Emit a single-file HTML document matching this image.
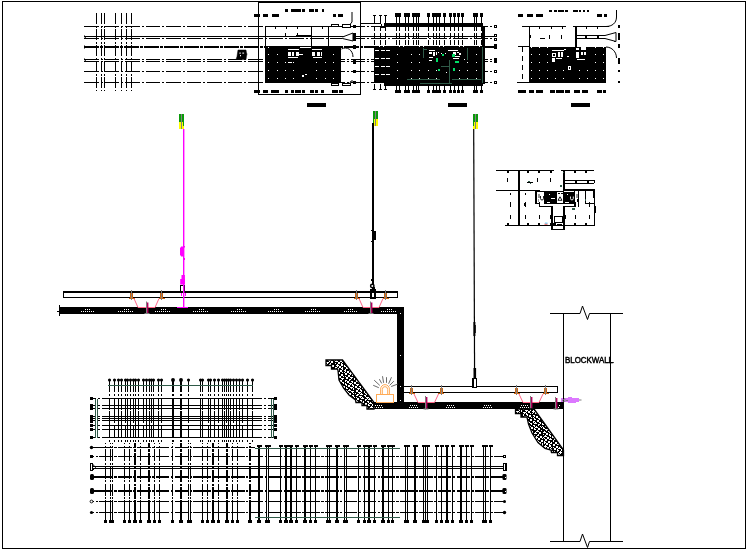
<!DOCTYPE html>
<html lang="en">
<head>
<meta charset="utf-8">
<title>Block wall hanger detail drawing</title>
<style>
html,body{margin:0;padding:0;background:#fff;}
body{width:749px;height:551px;overflow:hidden;font-family:"Liberation Sans",sans-serif;}
svg{display:block;}
</style>
</head>
<body>
<svg width="749" height="551" viewBox="0 0 749 551">
<defs>
<pattern id="hatch" width="4" height="4" patternUnits="userSpaceOnUse">
<rect width="4" height="4" fill="#fff"/>
<rect x="0" y="0" width="2" height="1" fill="#000"/><rect x="3" y="0" width="1" height="1" fill="#000"/>
<rect x="1" y="1" width="2" height="1" fill="#000"/>
<rect x="0" y="2" width="1" height="1" fill="#000"/><rect x="2" y="2" width="2" height="1" fill="#000"/>
<rect x="0" y="3" width="1" height="1" fill="#000"/><rect x="3" y="3" width="1" height="1" fill="#000"/><rect x="1" y="3" width="1" height="1" fill="#000"/>
</pattern>
<clipPath id="cp1"><polygon points="326,360 342.5,360 374,402.5 374,409 367,409 367,405.5 362,405.5 362,402.5 356,402.5 355.5,400 349,395 343.5,388 339,380 338,370.5 337.5,369 331.5,369 331.5,365.5 326,365.5"/></clipPath><clipPath id="cp2"><polygon points="515.5,409 534,409 563.5,450 563.5,455.5 557.5,455.5 557.5,452.5 551.5,452.5 551,450 545,448.5 538,442.5 532,433 528.5,424 527.5,419.5 527,417 521,417 521,413.5 515.5,413.5"/></clipPath>
</defs>
<rect width="749" height="551" fill="#fff"/>
<g shape-rendering="crispEdges">
<rect x="2.5" y="1.5" width="743" height="547" fill="none" stroke="#000" stroke-width="1"/>
<line x1="84" y1="26.5" x2="497" y2="26.5" stroke="#000" stroke-width="1" stroke-dasharray="14.5 2 2 2" stroke-dashoffset="0"/>
<rect x="84" y="36" width="413" height="1" fill="#000"/>
<line x1="84" y1="38.5" x2="497" y2="38.5" stroke="#000" stroke-width="1" stroke-dasharray="14.5 2 2 2" stroke-dashoffset="0"/>
<line x1="84" y1="47" x2="497" y2="47" stroke="#000" stroke-width="2" stroke-dasharray="14.5 1.5 2.5 1.5" stroke-dashoffset="0"/>
<line x1="84" y1="59.5" x2="497" y2="59.5" stroke="#000" stroke-width="1" stroke-dasharray="14.5 2 2 2" stroke-dashoffset="0"/>
<line x1="84" y1="61.5" x2="497" y2="61.5" stroke="#000" stroke-width="1" stroke-dasharray="14.5 2 2 2" stroke-dashoffset="0"/>
<line x1="84" y1="71.5" x2="497" y2="71.5" stroke="#000" stroke-width="1" stroke-dasharray="14.5 2 2 2" stroke-dashoffset="0"/>
<line x1="84" y1="82.5" x2="497" y2="82.5" stroke="#000" stroke-width="1" stroke-dasharray="14.5 2 2 2" stroke-dashoffset="0"/>
<line x1="96.5" y1="13" x2="96.5" y2="91" stroke="#000" stroke-width="1" stroke-dasharray="11 1.5 2 1.5" stroke-dashoffset="0"/>
<line x1="101.5" y1="13" x2="101.5" y2="91" stroke="#000" stroke-width="1" stroke-dasharray="11 1.5 2 1.5" stroke-dashoffset="0"/>
<line x1="104.5" y1="13" x2="104.5" y2="91" stroke="#000" stroke-width="1" stroke-dasharray="11 1.5 2 1.5" stroke-dashoffset="0"/>
<line x1="115.5" y1="13" x2="115.5" y2="91" stroke="#000" stroke-width="1" stroke-dasharray="11 1.5 2 1.5" stroke-dashoffset="0"/>
<line x1="121.5" y1="13" x2="121.5" y2="91" stroke="#000" stroke-width="1" stroke-dasharray="11 1.5 2 1.5" stroke-dashoffset="0"/>
<line x1="126.5" y1="13" x2="126.5" y2="91" stroke="#000" stroke-width="1" stroke-dasharray="11 1.5 2 1.5" stroke-dashoffset="0"/>
<line x1="131.5" y1="13" x2="131.5" y2="91" stroke="#000" stroke-width="1" stroke-dasharray="11 1.5 2 1.5" stroke-dashoffset="0"/>
<rect x="258.5" y="2.5" width="102" height="92" fill="none" stroke="#000" stroke-width="1"/>
<rect x="285" y="9" width="3" height="3" fill="#000"/>
<rect x="291" y="9" width="2.5" height="3" fill="#000"/>
<rect x="294" y="9" width="6.5" height="3" fill="#000"/>
<rect x="301.5" y="9" width="3.5" height="3" fill="#000"/>
<rect x="309" y="9" width="4.5" height="3" fill="#000"/>
<rect x="314.5" y="9" width="3" height="3" fill="#000"/>
<rect x="321.5" y="9" width="2.5" height="3" fill="#000"/>
<rect x="254" y="13.5" width="6" height="3.5" fill="#000"/>
<rect x="263" y="13.5" width="5" height="3.5" fill="#000"/>
<rect x="271.5" y="13.5" width="7.5" height="3.5" fill="#000"/>
<rect x="332.5" y="13.5" width="3.5" height="3.5" fill="#000"/>
<rect x="338" y="13.5" width="4.5" height="3.5" fill="#000"/>
<rect x="254" y="90" width="5.5" height="3" fill="#000"/>
<rect x="263" y="90" width="5" height="3" fill="#000"/>
<rect x="271" y="90" width="8" height="3" fill="#000"/>
<rect x="285" y="90" width="2.5" height="3" fill="#000"/>
<rect x="291" y="90" width="3" height="3" fill="#000"/>
<rect x="294.5" y="90" width="6" height="3" fill="#000"/>
<rect x="301.5" y="90" width="3.5" height="3" fill="#000"/>
<rect x="309.5" y="90" width="4" height="3" fill="#000"/>
<rect x="315" y="90" width="3" height="3" fill="#000"/>
<rect x="321" y="90" width="2.5" height="3" fill="#000"/>
<rect x="332" y="90" width="6" height="3" fill="#000"/>
<rect x="338.7" y="90" width="4.3" height="3" fill="#000"/>
<rect x="265" y="26" width="88" height="1" fill="#000"/>
<rect x="265" y="26" width="1" height="21" fill="#000"/>
<rect x="311" y="26" width="1" height="21" fill="#000"/>
<rect x="328" y="26" width="1" height="21" fill="#000"/>
<rect x="296" y="35" width="15" height="1" fill="#000"/>
<rect x="275" y="27" width="1" height="2" fill="#000"/>
<rect x="286" y="27" width="1" height="2" fill="#000"/>
<rect x="297" y="27" width="1" height="2" fill="#000"/>
<rect x="322" y="27" width="1" height="2" fill="#000"/>
<rect x="285" y="33" width="1" height="3" fill="#000"/>
<rect x="297" y="33" width="1" height="3" fill="#000"/>
<rect x="265" y="46" width="76" height="37" fill="#000"/>
<rect x="268" y="47" width="1" height="1" fill="#fff"/>
<rect x="268" y="54" width="1" height="1" fill="#fff"/>
<rect x="277" y="54" width="1" height="1" fill="#fff"/>
<rect x="333" y="54" width="1" height="1" fill="#fff"/>
<rect x="268" y="62" width="1" height="1" fill="#fff"/>
<rect x="277" y="62" width="1" height="1" fill="#fff"/>
<rect x="285" y="62" width="1" height="1" fill="#fff"/>
<rect x="293" y="62" width="1" height="1" fill="#fff"/>
<rect x="316" y="62" width="1" height="1" fill="#fff"/>
<rect x="325" y="62" width="1" height="1" fill="#fff"/>
<rect x="333" y="62" width="1" height="1" fill="#fff"/>
<rect x="268" y="70" width="1" height="1" fill="#fff"/>
<rect x="277" y="70" width="1" height="1" fill="#fff"/>
<rect x="285" y="70" width="1" height="1" fill="#fff"/>
<rect x="293" y="70" width="1" height="1" fill="#fff"/>
<rect x="316" y="70" width="1" height="1" fill="#fff"/>
<rect x="325" y="70" width="1" height="1" fill="#fff"/>
<rect x="333" y="70" width="1" height="1" fill="#fff"/>
<rect x="268" y="78" width="1" height="1" fill="#fff"/>
<rect x="277" y="78" width="1" height="1" fill="#fff"/>
<rect x="285" y="78" width="1" height="1" fill="#fff"/>
<rect x="293" y="78" width="1" height="1" fill="#fff"/>
<rect x="316" y="78" width="1" height="1" fill="#fff"/>
<rect x="325" y="78" width="1" height="1" fill="#fff"/>
<rect x="333" y="78" width="1" height="1" fill="#fff"/>
<rect x="288" y="49" width="11" height="1" fill="#fff"/>
<rect x="288" y="52" width="6" height="4" fill="#fff"/>
<rect x="296" y="52" width="3" height="4" fill="#fff"/>
<rect x="288" y="57" width="10" height="1" fill="#fff"/>
<rect x="290.5" y="52" width="1" height="4" fill="#000"/>
<rect x="299" y="54" width="4" height="1" fill="#fff"/>
<rect x="312" y="49" width="10" height="1" fill="#fff"/>
<rect x="312" y="52" width="3" height="4" fill="#fff"/>
<rect x="317" y="52" width="5" height="4" fill="#fff"/>
<rect x="313" y="57" width="9" height="1" fill="#fff"/>
<rect x="319.5" y="52" width="1" height="4" fill="#000"/>
<rect x="300" y="47" width="11" height="1" fill="#fff"/>
<rect x="288" y="62" width="4" height="1" fill="#fff"/>
<rect x="302" y="75" width="2" height="2" fill="#fff"/>
<rect x="305" y="74" width="2" height="1" fill="#fff"/>
<rect x="331.5" y="24.5" width="7" height="2" fill="#fff" stroke="#000"/>
<rect x="342.5" y="24.5" width="7.5" height="3" fill="#fff" stroke="#000"/>
<rect x="331.5" y="83.5" width="7" height="2" fill="#fff" stroke="#000"/>
<rect x="342.5" y="83.5" width="7.5" height="2" fill="#fff" stroke="#000"/>
<rect x="353" y="25" width="3" height="3" fill="#000"/>
<rect x="353" y="33" width="3" height="7.5" fill="#000"/>
<rect x="353" y="44.5" width="3" height="4.5" fill="#000"/>
<rect x="353" y="59" width="3" height="4.5" fill="#000"/>
<rect x="353" y="70" width="3" height="2.5" fill="#000"/>
<rect x="353" y="81" width="3" height="3" fill="#000"/>
<rect x="307" y="103" width="19" height="4" fill="#000"/>
<rect x="374" y="16" width="1" height="8" fill="#000"/>
<line x1="374.5" y1="26" x2="374.5" y2="47" stroke="#000" stroke-width="1" stroke-dasharray="5 2" stroke-dashoffset="0"/>
<rect x="374" y="84" width="1" height="6" fill="#000"/>
<rect x="373" y="15" width="3" height="1" fill="#000"/>
<rect x="373" y="89" width="3" height="1" fill="#000"/>
<rect x="380" y="16" width="1" height="8" fill="#000"/>
<line x1="380.5" y1="26" x2="380.5" y2="47" stroke="#000" stroke-width="1" stroke-dasharray="5 2" stroke-dashoffset="0"/>
<rect x="380" y="84" width="1" height="6" fill="#000"/>
<rect x="379" y="15" width="3" height="1" fill="#000"/>
<rect x="379" y="89" width="3" height="1" fill="#000"/>
<rect x="385" y="16" width="1" height="8" fill="#000"/>
<line x1="385.5" y1="26" x2="385.5" y2="47" stroke="#000" stroke-width="1" stroke-dasharray="5 2" stroke-dashoffset="0"/>
<rect x="385" y="84" width="1" height="6" fill="#000"/>
<rect x="384" y="15" width="3" height="1" fill="#000"/>
<rect x="384" y="89" width="3" height="1" fill="#000"/>
<rect x="396" y="16" width="1" height="8" fill="#000"/>
<line x1="396.5" y1="26" x2="396.5" y2="47" stroke="#000" stroke-width="1" stroke-dasharray="5 2" stroke-dashoffset="0"/>
<rect x="396" y="84" width="1" height="6" fill="#000"/>
<rect x="395" y="13" width="3" height="3.5" fill="#000"/>
<rect x="395" y="89.5" width="3" height="3.5" fill="#000"/>
<rect x="399" y="16" width="1" height="8" fill="#000"/>
<line x1="399.5" y1="26" x2="399.5" y2="47" stroke="#000" stroke-width="1" stroke-dasharray="5 2" stroke-dashoffset="0"/>
<rect x="399" y="84" width="1" height="6" fill="#000"/>
<rect x="398" y="13" width="3" height="3.5" fill="#000"/>
<rect x="398" y="89.5" width="3" height="3.5" fill="#000"/>
<rect x="405" y="16" width="1" height="8" fill="#000"/>
<line x1="405.5" y1="26" x2="405.5" y2="47" stroke="#000" stroke-width="1" stroke-dasharray="5 2" stroke-dashoffset="0"/>
<rect x="405" y="84" width="1" height="6" fill="#000"/>
<rect x="404" y="13" width="3" height="3.5" fill="#000"/>
<rect x="404" y="89.5" width="3" height="3.5" fill="#000"/>
<rect x="408" y="16" width="1" height="8" fill="#000"/>
<line x1="408.5" y1="26" x2="408.5" y2="47" stroke="#000" stroke-width="1" stroke-dasharray="5 2" stroke-dashoffset="0"/>
<rect x="408" y="84" width="1" height="6" fill="#000"/>
<rect x="407" y="13" width="3" height="3.5" fill="#000"/>
<rect x="407" y="89.5" width="3" height="3.5" fill="#000"/>
<rect x="413" y="16" width="1" height="8" fill="#000"/>
<line x1="413.5" y1="26" x2="413.5" y2="47" stroke="#000" stroke-width="1" stroke-dasharray="5 2" stroke-dashoffset="0"/>
<rect x="413" y="84" width="1" height="6" fill="#000"/>
<rect x="412" y="13" width="3" height="3.5" fill="#000"/>
<rect x="412" y="89.5" width="3" height="3.5" fill="#000"/>
<rect x="416" y="16" width="1" height="8" fill="#000"/>
<line x1="416.5" y1="26" x2="416.5" y2="47" stroke="#000" stroke-width="1" stroke-dasharray="5 2" stroke-dashoffset="0"/>
<rect x="416" y="84" width="1" height="6" fill="#000"/>
<rect x="415" y="13" width="3" height="3.5" fill="#000"/>
<rect x="415" y="89.5" width="3" height="3.5" fill="#000"/>
<rect x="418" y="16" width="1" height="8" fill="#000"/>
<line x1="418.5" y1="26" x2="418.5" y2="47" stroke="#000" stroke-width="1" stroke-dasharray="5 2" stroke-dashoffset="0"/>
<rect x="418" y="84" width="1" height="6" fill="#000"/>
<rect x="417" y="13" width="3" height="3.5" fill="#000"/>
<rect x="417" y="89.5" width="3" height="3.5" fill="#000"/>
<rect x="428" y="16" width="1" height="8" fill="#000"/>
<line x1="428.5" y1="26" x2="428.5" y2="47" stroke="#000" stroke-width="1" stroke-dasharray="5 2" stroke-dashoffset="0"/>
<rect x="428" y="84" width="1" height="6" fill="#000"/>
<rect x="427" y="13" width="3" height="3.5" fill="#000"/>
<rect x="427" y="89.5" width="3" height="3.5" fill="#000"/>
<rect x="433" y="16" width="1" height="8" fill="#000"/>
<line x1="433.5" y1="26" x2="433.5" y2="47" stroke="#000" stroke-width="1" stroke-dasharray="5 2" stroke-dashoffset="0"/>
<rect x="433" y="84" width="1" height="6" fill="#000"/>
<rect x="432" y="13" width="3" height="3.5" fill="#000"/>
<rect x="432" y="89.5" width="3" height="3.5" fill="#000"/>
<rect x="436" y="16" width="1" height="8" fill="#000"/>
<line x1="436.5" y1="26" x2="436.5" y2="47" stroke="#000" stroke-width="1" stroke-dasharray="5 2" stroke-dashoffset="0"/>
<rect x="436" y="84" width="1" height="6" fill="#000"/>
<rect x="435" y="13" width="3" height="3.5" fill="#000"/>
<rect x="435" y="89.5" width="3" height="3.5" fill="#000"/>
<rect x="439" y="16" width="1" height="8" fill="#000"/>
<line x1="439.5" y1="26" x2="439.5" y2="47" stroke="#000" stroke-width="1" stroke-dasharray="5 2" stroke-dashoffset="0"/>
<rect x="439" y="84" width="1" height="6" fill="#000"/>
<rect x="438" y="13" width="3" height="3.5" fill="#000"/>
<rect x="438" y="89.5" width="3" height="3.5" fill="#000"/>
<rect x="444" y="16" width="1" height="8" fill="#000"/>
<line x1="444.5" y1="26" x2="444.5" y2="47" stroke="#000" stroke-width="1" stroke-dasharray="5 2" stroke-dashoffset="0"/>
<rect x="444" y="84" width="1" height="6" fill="#000"/>
<rect x="443" y="13" width="3" height="3.5" fill="#000"/>
<rect x="443" y="89.5" width="3" height="3.5" fill="#000"/>
<rect x="450" y="16" width="1" height="8" fill="#000"/>
<line x1="450.5" y1="26" x2="450.5" y2="47" stroke="#000" stroke-width="1" stroke-dasharray="5 2" stroke-dashoffset="0"/>
<rect x="450" y="84" width="1" height="6" fill="#000"/>
<rect x="449" y="13" width="3" height="3.5" fill="#000"/>
<rect x="449" y="89.5" width="3" height="3.5" fill="#000"/>
<rect x="454" y="16" width="1" height="8" fill="#000"/>
<line x1="454.5" y1="26" x2="454.5" y2="47" stroke="#000" stroke-width="1" stroke-dasharray="5 2" stroke-dashoffset="0"/>
<rect x="454" y="84" width="1" height="6" fill="#000"/>
<rect x="453" y="13" width="3" height="3.5" fill="#000"/>
<rect x="453" y="89.5" width="3" height="3.5" fill="#000"/>
<rect x="458" y="16" width="1" height="8" fill="#000"/>
<line x1="458.5" y1="26" x2="458.5" y2="47" stroke="#000" stroke-width="1" stroke-dasharray="5 2" stroke-dashoffset="0"/>
<rect x="458" y="84" width="1" height="6" fill="#000"/>
<rect x="457" y="13" width="3" height="3.5" fill="#000"/>
<rect x="457" y="89.5" width="3" height="3.5" fill="#000"/>
<rect x="462" y="16" width="1" height="8" fill="#000"/>
<line x1="462.5" y1="26" x2="462.5" y2="47" stroke="#000" stroke-width="1" stroke-dasharray="5 2" stroke-dashoffset="0"/>
<rect x="462" y="84" width="1" height="6" fill="#000"/>
<rect x="461" y="13" width="3" height="3.5" fill="#000"/>
<rect x="461" y="89.5" width="3" height="3.5" fill="#000"/>
<rect x="474" y="16" width="1" height="8" fill="#000"/>
<line x1="474.5" y1="26" x2="474.5" y2="47" stroke="#000" stroke-width="1" stroke-dasharray="5 2" stroke-dashoffset="0"/>
<rect x="474" y="84" width="1" height="6" fill="#000"/>
<rect x="473" y="13" width="3" height="3.5" fill="#000"/>
<rect x="473" y="89.5" width="3" height="3.5" fill="#000"/>
<rect x="476" y="16" width="1" height="8" fill="#000"/>
<line x1="476.5" y1="26" x2="476.5" y2="47" stroke="#000" stroke-width="1" stroke-dasharray="5 2" stroke-dashoffset="0"/>
<rect x="476" y="84" width="1" height="6" fill="#000"/>
<rect x="475" y="13" width="3" height="3.5" fill="#000"/>
<rect x="475" y="89.5" width="3" height="3.5" fill="#000"/>
<rect x="481" y="16" width="1" height="8" fill="#000"/>
<line x1="481.5" y1="26" x2="481.5" y2="47" stroke="#000" stroke-width="1" stroke-dasharray="5 2" stroke-dashoffset="0"/>
<rect x="481" y="84" width="1" height="6" fill="#000"/>
<rect x="480" y="13" width="3" height="3.5" fill="#000"/>
<rect x="480" y="89.5" width="3" height="3.5" fill="#000"/>
<rect x="360" y="23" width="21" height="1" fill="#000"/>
<polyline points="381,23.5 381,27.5 385,27.5" fill="none" stroke="#000" stroke-width="1"/>
<rect x="384" y="23" width="99" height="3.5" fill="#000"/>
<rect x="374" y="46.5" width="9.5" height="36.7" fill="#000"/>
<rect x="383.5" y="46.5" width="99.5" height="39" fill="#000"/>
<rect x="481.5" y="26" width="3.5" height="58" fill="#000"/>
<line x1="375" y1="50.5" x2="390" y2="50.5" stroke="#fff" stroke-width="1" stroke-dasharray="4 1.5" stroke-dashoffset="0"/>
<line x1="375" y1="58.5" x2="390" y2="58.5" stroke="#fff" stroke-width="1" stroke-dasharray="4 1.5" stroke-dashoffset="0"/>
<line x1="375" y1="66.5" x2="390" y2="66.5" stroke="#fff" stroke-width="1" stroke-dasharray="4 1.5" stroke-dashoffset="0"/>
<line x1="375" y1="74.5" x2="390" y2="74.5" stroke="#fff" stroke-width="1" stroke-dasharray="4 1.5" stroke-dashoffset="0"/>
<rect x="397" y="54" width="1" height="1" fill="#fff"/>
<rect x="411" y="54" width="1" height="1" fill="#fff"/>
<rect x="419" y="54" width="1" height="1" fill="#fff"/>
<rect x="467" y="54" width="1" height="1" fill="#fff"/>
<rect x="476" y="54" width="1" height="1" fill="#fff"/>
<rect x="397" y="62" width="1" height="1" fill="#fff"/>
<rect x="411" y="62" width="1" height="1" fill="#fff"/>
<rect x="419" y="62" width="1" height="1" fill="#fff"/>
<rect x="467" y="62" width="1" height="1" fill="#fff"/>
<rect x="476" y="62" width="1" height="1" fill="#fff"/>
<rect x="397" y="70" width="1" height="1" fill="#fff"/>
<rect x="411" y="70" width="1" height="1" fill="#fff"/>
<rect x="419" y="70" width="1" height="1" fill="#fff"/>
<rect x="428" y="70" width="1" height="1" fill="#fff"/>
<rect x="436" y="70" width="1" height="1" fill="#fff"/>
<rect x="459" y="70" width="1" height="1" fill="#fff"/>
<rect x="467" y="70" width="1" height="1" fill="#fff"/>
<rect x="476" y="70" width="1" height="1" fill="#fff"/>
<rect x="397" y="78" width="1" height="1" fill="#fff"/>
<rect x="411" y="78" width="1" height="1" fill="#fff"/>
<rect x="419" y="78" width="1" height="1" fill="#fff"/>
<rect x="428" y="78" width="1" height="1" fill="#fff"/>
<rect x="436" y="78" width="1" height="1" fill="#fff"/>
<rect x="459" y="78" width="1" height="1" fill="#fff"/>
<rect x="467" y="78" width="1" height="1" fill="#fff"/>
<rect x="476" y="78" width="1" height="1" fill="#fff"/>
<rect x="429" y="50" width="6" height="1" fill="#fff"/>
<rect x="429" y="52" width="3" height="2" fill="#fff"/>
<rect x="429" y="57" width="4" height="1" fill="#fff"/>
<rect x="429" y="60" width="3" height="1" fill="#fff"/>
<rect x="433" y="52" width="2" height="4" fill="#fff"/>
<rect x="436" y="52" width="1" height="3" fill="#fff"/>
<rect x="438" y="52" width="1" height="1" fill="#fff"/>
<rect x="441" y="53" width="1" height="1" fill="#fff"/>
<rect x="445" y="53" width="1" height="1" fill="#fff"/>
<rect x="448" y="50" width="10" height="1" fill="#fff"/>
<rect x="453" y="52" width="3" height="3" fill="#fff"/>
<rect x="457" y="52" width="2" height="1" fill="#fff"/>
<rect x="455" y="56" width="5" height="1" fill="#fff"/>
<rect x="453" y="58" width="6" height="1" fill="#fff"/>
<rect x="459" y="53" width="2" height="2" fill="#fff"/>
<rect x="446" y="72" width="1" height="1" fill="#fff"/>
<rect x="464" y="59" width="1" height="1" fill="#fff"/>
<rect x="436" y="58" width="2" height="4" fill="#00dd66"/>
<rect x="442" y="54" width="1.5" height="2" fill="#00dd66"/>
<rect x="452" y="54" width="2.5" height="2.5" fill="#00dd66"/>
<rect x="455" y="61" width="4" height="2" fill="#00dd66"/>
<rect x="438" y="69" width="2" height="2" fill="#00dd66"/>
<rect x="453" y="68" width="2" height="3" fill="#00dd66"/>
<rect x="423" y="48" width="1" height="10" fill="#2f5a48"/>
<rect x="423" y="49" width="4" height="1" fill="#2f5a48"/>
<rect x="407" y="79" width="33" height="1" fill="#2f5a48"/>
<rect x="452" y="79" width="29" height="1" fill="#2f5a48"/>
<rect x="420" y="83" width="32" height="1" fill="#2f5a48"/>
<rect x="449" y="60" width="1" height="23" fill="#2f5a48"/>
<rect x="467" y="48" width="1" height="12" fill="#2f5a48"/>
<rect x="482" y="47" width="1" height="36" fill="#2f5a48"/>
<rect x="441" y="66" width="8" height="1" fill="#2f5a48"/>
<rect x="494.5" y="25.5" width="2" height="2" fill="#fff" stroke="#000"/>
<rect x="494.5" y="34.5" width="2" height="2" fill="#fff" stroke="#000"/>
<rect x="494.5" y="38.5" width="2" height="2" fill="#fff" stroke="#000"/>
<rect x="494.5" y="45.5" width="2" height="2" fill="#fff" stroke="#000"/>
<rect x="494.5" y="60.5" width="2" height="2" fill="#fff" stroke="#000"/>
<rect x="494.5" y="70.5" width="2" height="2" fill="#fff" stroke="#000"/>
<rect x="494.5" y="81.5" width="2" height="2" fill="#fff" stroke="#000"/>
<rect x="494" y="44" width="3" height="5" fill="#000"/>
<rect x="494" y="58" width="3" height="5" fill="#000"/>
<rect x="448" y="103" width="19" height="3.5" fill="#000"/>
<rect x="549" y="9.5" width="3" height="2.5" fill="#000"/>
<rect x="554" y="9.5" width="2.5" height="2.5" fill="#000"/>
<rect x="557.5" y="9.5" width="6" height="2.5" fill="#000"/>
<rect x="564.5" y="9.5" width="3.5" height="2.5" fill="#000"/>
<rect x="573" y="9.5" width="4.5" height="2.5" fill="#000"/>
<rect x="578.5" y="9.5" width="2.5" height="2.5" fill="#000"/>
<rect x="583" y="9.5" width="2" height="2.5" fill="#000"/>
<rect x="586.5" y="9.5" width="2" height="2.5" fill="#000"/>
<rect x="518" y="13.5" width="5" height="3" fill="#000"/>
<rect x="527" y="13.5" width="5.5" height="3" fill="#000"/>
<rect x="536" y="13.5" width="7" height="3" fill="#000"/>
<rect x="596.5" y="13.5" width="5.5" height="3" fill="#000"/>
<rect x="603.5" y="13.5" width="3.5" height="3" fill="#000"/>
<rect x="518" y="90" width="7.5" height="3" fill="#000"/>
<rect x="529" y="90" width="5" height="3" fill="#000"/>
<rect x="536" y="90" width="6.5" height="3" fill="#000"/>
<rect x="550" y="90" width="4.5" height="3" fill="#000"/>
<rect x="556" y="90" width="8" height="3" fill="#000"/>
<rect x="565" y="90" width="4.5" height="3" fill="#000"/>
<rect x="573.5" y="90" width="6.5" height="3" fill="#000"/>
<rect x="582" y="90" width="5.5" height="3" fill="#000"/>
<rect x="597" y="90" width="4.5" height="3" fill="#000"/>
<rect x="602.5" y="90" width="3.5" height="3" fill="#000"/>
<rect x="522" y="26" width="44" height="1" fill="#000"/>
<rect x="573" y="26" width="36" height="1" fill="#000"/>
<rect x="529" y="26" width="1" height="21" fill="#000"/>
<rect x="575" y="26" width="2" height="21" fill="#000"/>
<rect x="539" y="27" width="1" height="2" fill="#000"/>
<rect x="551" y="27" width="1" height="2" fill="#000"/>
<rect x="562" y="27" width="1" height="2" fill="#000"/>
<rect x="586" y="27" width="1" height="2" fill="#000"/>
<rect x="597" y="27" width="1" height="2" fill="#000"/>
<rect x="540" y="38" width="5" height="1" fill="#000"/>
<rect x="549" y="35" width="1" height="4" fill="#000"/>
<rect x="561" y="35" width="1" height="4" fill="#000"/>
<rect x="530" y="35" width="1" height="3" fill="#000"/>
<rect x="577" y="35" width="28" height="1" fill="#000"/>
<rect x="577" y="38" width="28" height="1" fill="#000"/>
<rect x="585" y="35" width="1" height="4" fill="#000"/>
<rect x="586" y="35" width="1" height="4" fill="#000"/>
<rect x="597" y="35" width="1" height="4" fill="#000"/>
<rect x="598" y="35" width="1" height="4" fill="#000"/>
<rect x="614" y="33" width="2" height="9" fill="#000"/>
<rect x="529" y="46.5" width="77" height="36.5" fill="#000"/>
<rect x="518" y="46" width="11" height="1" fill="#000"/>
<rect x="517" y="82" width="12" height="1" fill="#000"/>
<line x1="522.5" y1="47" x2="522.5" y2="82" stroke="#000" stroke-width="1" stroke-dasharray="5 4" stroke-dashoffset="0"/>
<rect x="531" y="47" width="1" height="1" fill="#fff"/>
<rect x="539" y="47" width="1" height="1" fill="#fff"/>
<rect x="547" y="47" width="1" height="1" fill="#fff"/>
<rect x="595" y="47" width="1" height="1" fill="#fff"/>
<rect x="603" y="47" width="1" height="1" fill="#fff"/>
<rect x="531" y="54" width="1" height="1" fill="#fff"/>
<rect x="539" y="54" width="1" height="1" fill="#fff"/>
<rect x="547" y="54" width="1" height="1" fill="#fff"/>
<rect x="595" y="54" width="1" height="1" fill="#fff"/>
<rect x="603" y="54" width="1" height="1" fill="#fff"/>
<rect x="531" y="62" width="1" height="1" fill="#fff"/>
<rect x="539" y="62" width="1" height="1" fill="#fff"/>
<rect x="547" y="62" width="1" height="1" fill="#fff"/>
<rect x="595" y="62" width="1" height="1" fill="#fff"/>
<rect x="603" y="62" width="1" height="1" fill="#fff"/>
<rect x="531" y="70" width="1" height="1" fill="#fff"/>
<rect x="539" y="70" width="1" height="1" fill="#fff"/>
<rect x="547" y="70" width="1" height="1" fill="#fff"/>
<rect x="555" y="70" width="1" height="1" fill="#fff"/>
<rect x="563" y="70" width="1" height="1" fill="#fff"/>
<rect x="579" y="70" width="1" height="1" fill="#fff"/>
<rect x="587" y="70" width="1" height="1" fill="#fff"/>
<rect x="595" y="70" width="1" height="1" fill="#fff"/>
<rect x="603" y="70" width="1" height="1" fill="#fff"/>
<rect x="531" y="78" width="1" height="1" fill="#fff"/>
<rect x="539" y="78" width="1" height="1" fill="#fff"/>
<rect x="547" y="78" width="1" height="1" fill="#fff"/>
<rect x="555" y="78" width="1" height="1" fill="#fff"/>
<rect x="563" y="78" width="1" height="1" fill="#fff"/>
<rect x="579" y="78" width="1" height="1" fill="#fff"/>
<rect x="587" y="78" width="1" height="1" fill="#fff"/>
<rect x="595" y="78" width="1" height="1" fill="#fff"/>
<rect x="603" y="78" width="1" height="1" fill="#fff"/>
<rect x="552" y="50" width="12" height="1" fill="#fff"/>
<rect x="552" y="53" width="4" height="4" fill="#fff"/>
<rect x="558" y="52" width="5" height="5" fill="#fff"/>
<rect x="552" y="58" width="3" height="4" fill="#fff"/>
<rect x="556" y="58" width="6" height="1" fill="#fff"/>
<rect x="576" y="48" width="3" height="2" fill="#fff"/>
<rect x="581" y="47" width="5" height="3" fill="#fff"/>
<rect x="576" y="52" width="3" height="6" fill="#fff"/>
<rect x="581" y="52" width="5" height="3" fill="#fff"/>
<rect x="577" y="59" width="8" height="1" fill="#fff"/>
<rect x="568" y="66" width="3" height="4" fill="#fff"/>
<rect x="564" y="49" width="2" height="1" fill="#fff"/>
<rect x="567" y="56" width="2" height="1" fill="#fff"/>
<rect x="553" y="54" width="2" height="2" fill="#000"/>
<rect x="559.5" y="52" width="1" height="5" fill="#000"/>
<rect x="582.5" y="52" width="1" height="3" fill="#000"/>
<rect x="569" y="67" width="1" height="2" fill="#000"/>
<rect x="617.5" y="25" width="2.5" height="2.5" fill="#000"/>
<rect x="617.5" y="33" width="2.5" height="7" fill="#000"/>
<rect x="617.5" y="44" width="2.5" height="4" fill="#000"/>
<rect x="617.5" y="58" width="2.5" height="6" fill="#000"/>
<rect x="617.5" y="70" width="2.5" height="2" fill="#000"/>
<rect x="617.5" y="81" width="2.5" height="2" fill="#000"/>
<rect x="571" y="103" width="19" height="3.5" fill="#000"/>
<rect x="63" y="291" width="335" height="2" fill="#000"/>
<rect x="63" y="297" width="335" height="1" fill="#000"/>
<rect x="63" y="291" width="1" height="7" fill="#000"/>
<rect x="397" y="291" width="1" height="7" fill="#000"/>
<rect x="59.5" y="307" width="344.5" height="6.8" fill="#000"/>
<rect x="59" y="305" width="1" height="11" fill="#000"/>
<rect x="57" y="311" width="2" height="1" fill="#000"/>
<rect x="397.3" y="307" width="6.7" height="102" fill="#000"/>
<rect x="85" y="309" width="1" height="1" fill="#fff"/>
<rect x="87" y="309" width="1" height="1" fill="#fff"/>
<rect x="89" y="309" width="1" height="1" fill="#fff"/>
<rect x="81" y="311" width="1" height="1" fill="#fff"/>
<rect x="83" y="311" width="1" height="1" fill="#fff"/>
<rect x="85" y="311" width="1" height="1" fill="#fff"/>
<rect x="87" y="311" width="1" height="1" fill="#fff"/>
<rect x="89" y="311" width="1" height="1" fill="#fff"/>
<rect x="91" y="311" width="1" height="1" fill="#fff"/>
<rect x="93" y="311" width="1" height="1" fill="#fff"/>
<rect x="124" y="309" width="1" height="1" fill="#fff"/>
<rect x="126" y="309" width="1" height="1" fill="#fff"/>
<rect x="128" y="309" width="1" height="1" fill="#fff"/>
<rect x="118" y="311" width="1" height="1" fill="#fff"/>
<rect x="120" y="311" width="1" height="1" fill="#fff"/>
<rect x="122" y="311" width="1" height="1" fill="#fff"/>
<rect x="124" y="311" width="1" height="1" fill="#fff"/>
<rect x="126" y="311" width="1" height="1" fill="#fff"/>
<rect x="128" y="311" width="1" height="1" fill="#fff"/>
<rect x="130" y="311" width="1" height="1" fill="#fff"/>
<rect x="132" y="311" width="1" height="1" fill="#fff"/>
<rect x="161" y="309" width="1" height="1" fill="#fff"/>
<rect x="163" y="309" width="1" height="1" fill="#fff"/>
<rect x="165" y="309" width="1" height="1" fill="#fff"/>
<rect x="155" y="311" width="1" height="1" fill="#fff"/>
<rect x="157" y="311" width="1" height="1" fill="#fff"/>
<rect x="159" y="311" width="1" height="1" fill="#fff"/>
<rect x="161" y="311" width="1" height="1" fill="#fff"/>
<rect x="163" y="311" width="1" height="1" fill="#fff"/>
<rect x="165" y="311" width="1" height="1" fill="#fff"/>
<rect x="167" y="311" width="1" height="1" fill="#fff"/>
<rect x="169" y="311" width="1" height="1" fill="#fff"/>
<rect x="199" y="309" width="1" height="1" fill="#fff"/>
<rect x="201" y="309" width="1" height="1" fill="#fff"/>
<rect x="203" y="309" width="1" height="1" fill="#fff"/>
<rect x="193" y="311" width="1" height="1" fill="#fff"/>
<rect x="195" y="311" width="1" height="1" fill="#fff"/>
<rect x="197" y="311" width="1" height="1" fill="#fff"/>
<rect x="199" y="311" width="1" height="1" fill="#fff"/>
<rect x="201" y="311" width="1" height="1" fill="#fff"/>
<rect x="203" y="311" width="1" height="1" fill="#fff"/>
<rect x="205" y="311" width="1" height="1" fill="#fff"/>
<rect x="207" y="311" width="1" height="1" fill="#fff"/>
<rect x="237" y="309" width="1" height="1" fill="#fff"/>
<rect x="239" y="309" width="1" height="1" fill="#fff"/>
<rect x="241" y="309" width="1" height="1" fill="#fff"/>
<rect x="231" y="311" width="1" height="1" fill="#fff"/>
<rect x="233" y="311" width="1" height="1" fill="#fff"/>
<rect x="235" y="311" width="1" height="1" fill="#fff"/>
<rect x="237" y="311" width="1" height="1" fill="#fff"/>
<rect x="239" y="311" width="1" height="1" fill="#fff"/>
<rect x="241" y="311" width="1" height="1" fill="#fff"/>
<rect x="243" y="311" width="1" height="1" fill="#fff"/>
<rect x="245" y="311" width="1" height="1" fill="#fff"/>
<rect x="274" y="309" width="1" height="1" fill="#fff"/>
<rect x="276" y="309" width="1" height="1" fill="#fff"/>
<rect x="278" y="309" width="1" height="1" fill="#fff"/>
<rect x="268" y="311" width="1" height="1" fill="#fff"/>
<rect x="270" y="311" width="1" height="1" fill="#fff"/>
<rect x="272" y="311" width="1" height="1" fill="#fff"/>
<rect x="274" y="311" width="1" height="1" fill="#fff"/>
<rect x="276" y="311" width="1" height="1" fill="#fff"/>
<rect x="278" y="311" width="1" height="1" fill="#fff"/>
<rect x="280" y="311" width="1" height="1" fill="#fff"/>
<rect x="282" y="311" width="1" height="1" fill="#fff"/>
<rect x="311" y="309" width="1" height="1" fill="#fff"/>
<rect x="313" y="309" width="1" height="1" fill="#fff"/>
<rect x="315" y="309" width="1" height="1" fill="#fff"/>
<rect x="305" y="311" width="1" height="1" fill="#fff"/>
<rect x="307" y="311" width="1" height="1" fill="#fff"/>
<rect x="309" y="311" width="1" height="1" fill="#fff"/>
<rect x="311" y="311" width="1" height="1" fill="#fff"/>
<rect x="313" y="311" width="1" height="1" fill="#fff"/>
<rect x="315" y="311" width="1" height="1" fill="#fff"/>
<rect x="317" y="311" width="1" height="1" fill="#fff"/>
<rect x="319" y="311" width="1" height="1" fill="#fff"/>
<rect x="348" y="309" width="1" height="1" fill="#fff"/>
<rect x="350" y="309" width="1" height="1" fill="#fff"/>
<rect x="352" y="309" width="1" height="1" fill="#fff"/>
<rect x="344" y="311" width="1" height="1" fill="#fff"/>
<rect x="346" y="311" width="1" height="1" fill="#fff"/>
<rect x="348" y="311" width="1" height="1" fill="#fff"/>
<rect x="350" y="311" width="1" height="1" fill="#fff"/>
<rect x="352" y="311" width="1" height="1" fill="#fff"/>
<rect x="354" y="311" width="1" height="1" fill="#fff"/>
<rect x="356" y="311" width="1" height="1" fill="#fff"/>
<rect x="387" y="309" width="1" height="1" fill="#fff"/>
<rect x="389" y="309" width="1" height="1" fill="#fff"/>
<rect x="391" y="309" width="1" height="1" fill="#fff"/>
<rect x="381" y="311" width="1" height="1" fill="#fff"/>
<rect x="383" y="311" width="1" height="1" fill="#fff"/>
<rect x="385" y="311" width="1" height="1" fill="#fff"/>
<rect x="387" y="311" width="1" height="1" fill="#fff"/>
<rect x="389" y="311" width="1" height="1" fill="#fff"/>
<rect x="391" y="311" width="1" height="1" fill="#fff"/>
<rect x="393" y="311" width="1" height="1" fill="#fff"/>
<rect x="395" y="311" width="1" height="1" fill="#fff"/>
<rect x="399.5" y="313" width="1" height="1" fill="#fff"/>
<rect x="400" y="355" width="1" height="1" fill="#fff"/>
<rect x="400" y="386" width="1" height="1" fill="#fff"/>
<rect x="400" y="400" width="1" height="1" fill="#fff"/>
<rect x="404" y="386" width="154" height="1" fill="#000"/>
<rect x="404" y="392" width="154" height="1" fill="#000"/>
<rect x="557" y="386" width="1" height="7" fill="#000"/>
<rect x="373.5" y="402.3" width="190.5" height="6.6" fill="#000"/>
<rect x="375" y="405" width="1" height="1" fill="#fff"/>
<rect x="377" y="405" width="1" height="1" fill="#fff"/>
<rect x="379" y="405" width="1" height="1" fill="#fff"/>
<rect x="381" y="405" width="1" height="1" fill="#fff"/>
<rect x="374" y="407" width="1" height="1" fill="#fff"/>
<rect x="376" y="407" width="1" height="1" fill="#fff"/>
<rect x="378" y="407" width="1" height="1" fill="#fff"/>
<rect x="380" y="407" width="1" height="1" fill="#fff"/>
<rect x="382" y="407" width="1" height="1" fill="#fff"/>
<rect x="410" y="405" width="1" height="1" fill="#fff"/>
<rect x="412" y="405" width="1" height="1" fill="#fff"/>
<rect x="414" y="405" width="1" height="1" fill="#fff"/>
<rect x="416" y="405" width="1" height="1" fill="#fff"/>
<rect x="409" y="407" width="1" height="1" fill="#fff"/>
<rect x="411" y="407" width="1" height="1" fill="#fff"/>
<rect x="413" y="407" width="1" height="1" fill="#fff"/>
<rect x="415" y="407" width="1" height="1" fill="#fff"/>
<rect x="417" y="407" width="1" height="1" fill="#fff"/>
<rect x="447" y="405" width="1" height="1" fill="#fff"/>
<rect x="449" y="405" width="1" height="1" fill="#fff"/>
<rect x="451" y="405" width="1" height="1" fill="#fff"/>
<rect x="453" y="405" width="1" height="1" fill="#fff"/>
<rect x="446" y="407" width="1" height="1" fill="#fff"/>
<rect x="448" y="407" width="1" height="1" fill="#fff"/>
<rect x="450" y="407" width="1" height="1" fill="#fff"/>
<rect x="452" y="407" width="1" height="1" fill="#fff"/>
<rect x="454" y="407" width="1" height="1" fill="#fff"/>
<rect x="484" y="405" width="1" height="1" fill="#fff"/>
<rect x="486" y="405" width="1" height="1" fill="#fff"/>
<rect x="488" y="405" width="1" height="1" fill="#fff"/>
<rect x="490" y="405" width="1" height="1" fill="#fff"/>
<rect x="483" y="407" width="1" height="1" fill="#fff"/>
<rect x="485" y="407" width="1" height="1" fill="#fff"/>
<rect x="487" y="407" width="1" height="1" fill="#fff"/>
<rect x="489" y="407" width="1" height="1" fill="#fff"/>
<rect x="491" y="407" width="1" height="1" fill="#fff"/>
<rect x="521" y="405" width="1" height="1" fill="#fff"/>
<rect x="523" y="405" width="1" height="1" fill="#fff"/>
<rect x="525" y="405" width="1" height="1" fill="#fff"/>
<rect x="527" y="405" width="1" height="1" fill="#fff"/>
<rect x="520" y="407" width="1" height="1" fill="#fff"/>
<rect x="522" y="407" width="1" height="1" fill="#fff"/>
<rect x="524" y="407" width="1" height="1" fill="#fff"/>
<rect x="526" y="407" width="1" height="1" fill="#fff"/>
<rect x="528" y="407" width="1" height="1" fill="#fff"/>
<rect x="559" y="405" width="1" height="1" fill="#fff"/>
<rect x="558" y="407" width="1" height="1" fill="#fff"/>
<rect x="179" y="114" width="5" height="15" fill="#ffff00"/>
<rect x="179" y="114" width="5" height="8" fill="#0a9a0a"/>
<rect x="183" y="114" width="1" height="12" fill="#0a9a0a"/>
<rect x="181" y="114" width="1" height="15" fill="#808080"/>
<rect x="373" y="111" width="5" height="15" fill="#ffff00"/>
<rect x="373" y="111" width="5" height="8" fill="#0a9a0a"/>
<rect x="373" y="111" width="1" height="12" fill="#0a9a0a"/>
<rect x="375" y="111" width="1" height="15" fill="#808080"/>
<rect x="473" y="114" width="5" height="15" fill="#ffff00"/>
<rect x="473" y="114" width="5" height="8" fill="#0a9a0a"/>
<rect x="473" y="114" width="1" height="12" fill="#0a9a0a"/>
<rect x="475" y="114" width="1" height="15" fill="#808080"/>
<rect x="183" y="129" width="1" height="178" fill="#ff00ff"/>
<rect x="177" y="307" width="11" height="1" fill="#ff00ff"/>
<rect x="181" y="293" width="1" height="3" fill="#ff00ff"/>
<rect x="185" y="293" width="1" height="3" fill="#ff00ff"/>
<rect x="180.5" y="285.5" width="4" height="6" fill="none" stroke="#000"/>
<rect x="372" y="123" width="2" height="167" fill="#000"/>
<rect x="374" y="231" width="1.5" height="9" fill="#000"/>
<rect x="375" y="233" width="1" height="5" fill="#000"/>
<rect x="371" y="279" width="1" height="2" fill="#000"/>
<circle cx="372.3" cy="286" r="1.7" fill="#fff" stroke="#000" stroke-width="1.5" shape-rendering="auto"/>
<rect x="371" y="230" width="1" height="1" fill="#000"/>
<rect x="371" y="241" width="1" height="1" fill="#000"/>
<rect x="373.5" y="287" width="1" height="3" fill="#000"/>
<rect x="371" y="290" width="4" height="7.5" fill="#fff" stroke="#000" stroke-width="2"/>
<rect x="370" y="291" width="6" height="2" fill="#000"/>
<rect x="474" y="372" width="1" height="1.5" fill="#fff"/>
<rect x="473" y="378.5" width="3.5" height="9" fill="#fff" stroke="#000" stroke-width="1.3"/>
<rect x="131" y="290" width="1" height="9.5" fill="#808080"/>
<rect x="130" y="293" width="1" height="6" fill="#cc6611"/>
<rect x="132" y="293" width="1" height="6" fill="#cc6611"/>
<rect x="128.5" y="297.5" width="2" height="1.2" fill="#cc6611"/>
<rect x="132.5" y="297.5" width="2" height="1.2" fill="#cc6611"/>
<rect x="161" y="290" width="1" height="9.5" fill="#808080"/>
<rect x="160" y="293" width="1" height="6" fill="#cc6611"/>
<rect x="162" y="293" width="1" height="6" fill="#cc6611"/>
<rect x="158.5" y="297.5" width="2" height="1.2" fill="#cc6611"/>
<rect x="162.5" y="297.5" width="2" height="1.2" fill="#cc6611"/>
<rect x="356" y="290" width="1" height="9.5" fill="#808080"/>
<rect x="355" y="293" width="1" height="6" fill="#cc6611"/>
<rect x="357" y="293" width="1" height="6" fill="#cc6611"/>
<rect x="353.5" y="297.5" width="2" height="1.2" fill="#cc6611"/>
<rect x="357.5" y="297.5" width="2" height="1.2" fill="#cc6611"/>
<rect x="385" y="290" width="1" height="9.5" fill="#808080"/>
<rect x="384" y="293" width="1" height="6" fill="#cc6611"/>
<rect x="386" y="293" width="1" height="6" fill="#cc6611"/>
<rect x="382.5" y="297.5" width="2" height="1.2" fill="#cc6611"/>
<rect x="386.5" y="297.5" width="2" height="1.2" fill="#cc6611"/>
<rect x="411" y="385" width="1" height="9.5" fill="#808080"/>
<rect x="410" y="388" width="1" height="6" fill="#cc6611"/>
<rect x="412" y="388" width="1" height="6" fill="#cc6611"/>
<rect x="408.5" y="392.5" width="2" height="1.2" fill="#cc6611"/>
<rect x="412.5" y="392.5" width="2" height="1.2" fill="#cc6611"/>
<rect x="440.5" y="385" width="1" height="9.5" fill="#808080"/>
<rect x="439.5" y="388" width="1" height="6" fill="#cc6611"/>
<rect x="441.5" y="388" width="1" height="6" fill="#cc6611"/>
<rect x="438" y="392.5" width="2" height="1.2" fill="#cc6611"/>
<rect x="442" y="392.5" width="2" height="1.2" fill="#cc6611"/>
<rect x="516" y="385" width="1" height="9.5" fill="#808080"/>
<rect x="515" y="388" width="1" height="6" fill="#cc6611"/>
<rect x="517" y="388" width="1" height="6" fill="#cc6611"/>
<rect x="513.5" y="392.5" width="2" height="1.2" fill="#cc6611"/>
<rect x="517.5" y="392.5" width="2" height="1.2" fill="#cc6611"/>
<rect x="545" y="385" width="1" height="9.5" fill="#808080"/>
<rect x="544" y="388" width="1" height="6" fill="#cc6611"/>
<rect x="546" y="388" width="1" height="6" fill="#cc6611"/>
<rect x="542.5" y="392.5" width="2" height="1.2" fill="#cc6611"/>
<rect x="546.5" y="392.5" width="2" height="1.2" fill="#cc6611"/>
<rect x="376.5" y="394.5" width="17" height="8" fill="#fff" stroke="#ffaa55" stroke-width="1"/>
<rect x="561" y="398" width="18" height="4" fill="#dc78ff"/>
<rect x="568" y="397" width="3.5" height="6" fill="#dc78ff"/>
<rect x="572" y="401.5" width="4" height="1" fill="#dc78ff"/>
<rect x="566" y="399.5" width="2" height="1.2" fill="#808080"/>
<rect x="563" y="313" width="1" height="229" fill="#000"/>
<rect x="610" y="313" width="1" height="229" fill="#000"/>
<rect x="496" y="170" width="58" height="1" fill="#000"/>
<rect x="561" y="170" width="33" height="1" fill="#000"/>
<rect x="496" y="190" width="44" height="1" fill="#000"/>
<rect x="505" y="225" width="46" height="1" fill="#000"/>
<rect x="565" y="225" width="30" height="1" fill="#000"/>
<rect x="518" y="170" width="2" height="56" fill="#000"/>
<rect x="563" y="170" width="2" height="21" fill="#000"/>
<rect x="565" y="179.5" width="29" height="1" fill="#000"/>
<rect x="565" y="182.5" width="29" height="1" fill="#000"/>
<rect x="575" y="180" width="1" height="3" fill="#000"/>
<rect x="576" y="180" width="1" height="3" fill="#000"/>
<rect x="587" y="180" width="1" height="3" fill="#000"/>
<rect x="588" y="180" width="1" height="3" fill="#000"/>
<rect x="594" y="180" width="1" height="3" fill="#000"/>
<rect x="564" y="189" width="31" height="2" fill="#000"/>
<rect x="585.5" y="190.5" width="8.5" height="13" fill="#fff" stroke="#000"/>
<rect x="593" y="190" width="2" height="8" fill="#000"/>
<rect x="594" y="198" width="1" height="28" fill="#000"/>
<rect x="594" y="206" width="2" height="7" fill="#000"/>
<rect x="507" y="171" width="2" height="2" fill="#000"/>
<rect x="507" y="223" width="2" height="2" fill="#000"/>
<rect x="527" y="171" width="2" height="2" fill="#000"/>
<rect x="527" y="223" width="2" height="2" fill="#000"/>
<rect x="538" y="171" width="2" height="2" fill="#000"/>
<rect x="538" y="223" width="2" height="2" fill="#000"/>
<rect x="550" y="171" width="2" height="2" fill="#000"/>
<rect x="550" y="223" width="2" height="2" fill="#000"/>
<rect x="574" y="171" width="2" height="2" fill="#000"/>
<rect x="574" y="223" width="2" height="2" fill="#000"/>
<rect x="585" y="171" width="2" height="2" fill="#000"/>
<rect x="585" y="223" width="2" height="2" fill="#000"/>
<rect x="507" y="178" width="1" height="4" fill="#000"/>
<rect x="537" y="178" width="1" height="4" fill="#000"/>
<rect x="550" y="178" width="1" height="4" fill="#000"/>
<rect x="527" y="181.5" width="6" height="1" fill="#000"/>
<rect x="528" y="180.5" width="2" height="1" fill="#2f5a48"/>
<rect x="510" y="202" width="1" height="4.5" fill="#000"/>
<rect x="510" y="214.5" width="1" height="4" fill="#000"/>
<rect x="525" y="202" width="1" height="4.5" fill="#000"/>
<rect x="525" y="214.5" width="1" height="4" fill="#000"/>
<rect x="539" y="202" width="1" height="4.5" fill="#000"/>
<rect x="539" y="214.5" width="1" height="4" fill="#000"/>
<rect x="575" y="202" width="1" height="4.5" fill="#000"/>
<rect x="575" y="214.5" width="1" height="4" fill="#000"/>
<rect x="589" y="202" width="1" height="4.5" fill="#000"/>
<rect x="589" y="214.5" width="1" height="4" fill="#000"/>
<rect x="510" y="193" width="1" height="2" fill="#000"/>
<rect x="525" y="193" width="1" height="2" fill="#000"/>
<rect x="524" y="203" width="2" height="3" fill="#000"/>
<rect x="535" y="191" width="29" height="1" fill="#000"/>
<rect x="535" y="191" width="2" height="13" fill="#000"/>
<rect x="537" y="203" width="3" height="1" fill="#000"/>
<rect x="539" y="203" width="1" height="4" fill="#000"/>
<rect x="537.5" y="194" width="2" height="3.5" fill="#999"/>
<rect x="537.5" y="199" width="1.2" height="3" fill="#999"/>
<rect x="544" y="192" width="12" height="12" fill="#000"/>
<rect x="549" y="194" width="1" height="1" fill="#fff"/>
<rect x="551" y="198" width="4" height="1" fill="#fff"/>
<rect x="546.5" y="202" width="3.5" height="1" fill="#fff"/>
<rect x="556.5" y="191.5" width="6.5" height="11.5" fill="#fff" stroke="#000"/>
<rect x="557.5" y="193" width="2" height="1.2" fill="#000"/>
<rect x="560.5" y="193" width="2" height="1.2" fill="#000"/>
<rect x="563.5" y="192" width="10.5" height="12" fill="#000"/>
<rect x="567" y="194" width="1" height="1" fill="#fff"/>
<rect x="565" y="202" width="4" height="1" fill="#fff"/>
<rect x="578" y="191" width="1" height="16" fill="#000"/>
<rect x="574" y="191" width="1" height="16" fill="#000"/>
<rect x="575.5" y="194" width="2.5" height="3.5" fill="#999"/>
<rect x="576.5" y="199" width="1.2" height="3" fill="#000"/>
<rect x="539" y="206" width="13" height="1" fill="#000"/>
<rect x="564" y="206" width="11" height="1" fill="#000"/>
<rect x="551" y="206" width="2" height="24" fill="#000"/>
<rect x="563" y="206" width="2" height="24" fill="#000"/>
<rect x="551" y="229" width="14" height="1" fill="#000"/>
<rect x="551" y="225" width="14" height="1" fill="#000"/>
<rect x="554.5" y="216.5" width="8" height="5.5" fill="#fff" stroke="#000"/>
<rect x="549.5" y="215" width="2" height="4" fill="#000"/>
<rect x="564.5" y="215" width="1.5" height="4" fill="#000"/>
<rect x="553" y="223" width="3" height="2.5" fill="#000"/>
<rect x="557" y="224" width="5" height="1" fill="#000"/>
<rect x="572" y="208" width="3" height="1.5" fill="#2f5a48"/>
<rect x="530" y="182.5" width="1" height="1.5" fill="#2f5a48"/>
<rect x="560" y="185" width="1.5" height="1.5" fill="#2f5a48"/>
<rect x="585" y="199" width="1" height="2" fill="#2f5a48"/>
<rect x="562.5" y="172" width="1.5" height="1" fill="#2f5a48"/>
<line x1="91" y1="398.5" x2="107" y2="398.5" stroke="#000" stroke-width="1" stroke-dasharray="5 2 2 2" stroke-dashoffset="0"/>
<rect x="107" y="398" width="149" height="1" fill="#000"/>
<line x1="256" y1="398.5" x2="276" y2="398.5" stroke="#000" stroke-width="1" stroke-dasharray="6 2 2 2" stroke-dashoffset="0"/>
<line x1="91" y1="405.5" x2="107" y2="405.5" stroke="#000" stroke-width="1" stroke-dasharray="5 2 2 2" stroke-dashoffset="0"/>
<rect x="107" y="405" width="149" height="1" fill="#000"/>
<line x1="256" y1="405.5" x2="276" y2="405.5" stroke="#000" stroke-width="1" stroke-dasharray="6 2 2 2" stroke-dashoffset="0"/>
<line x1="91" y1="408.5" x2="107" y2="408.5" stroke="#000" stroke-width="1" stroke-dasharray="5 2 2 2" stroke-dashoffset="0"/>
<rect x="107" y="408" width="149" height="1" fill="#000"/>
<line x1="256" y1="408.5" x2="276" y2="408.5" stroke="#000" stroke-width="1" stroke-dasharray="6 2 2 2" stroke-dashoffset="0"/>
<line x1="91" y1="416.5" x2="107" y2="416.5" stroke="#000" stroke-width="1" stroke-dasharray="5 2 2 2" stroke-dashoffset="0"/>
<rect x="107" y="416" width="149" height="1" fill="#000"/>
<line x1="256" y1="416.5" x2="276" y2="416.5" stroke="#000" stroke-width="1" stroke-dasharray="6 2 2 2" stroke-dashoffset="0"/>
<line x1="91" y1="418.5" x2="107" y2="418.5" stroke="#000" stroke-width="1" stroke-dasharray="5 2 2 2" stroke-dashoffset="0"/>
<rect x="107" y="418" width="149" height="1" fill="#000"/>
<line x1="256" y1="418.5" x2="276" y2="418.5" stroke="#000" stroke-width="1" stroke-dasharray="6 2 2 2" stroke-dashoffset="0"/>
<line x1="91" y1="420.5" x2="107" y2="420.5" stroke="#000" stroke-width="1" stroke-dasharray="5 2 2 2" stroke-dashoffset="0"/>
<rect x="107" y="420" width="149" height="1" fill="#000"/>
<line x1="256" y1="420.5" x2="276" y2="420.5" stroke="#000" stroke-width="1" stroke-dasharray="6 2 2 2" stroke-dashoffset="0"/>
<line x1="91" y1="425.5" x2="107" y2="425.5" stroke="#000" stroke-width="1" stroke-dasharray="5 2 2 2" stroke-dashoffset="0"/>
<rect x="107" y="425" width="149" height="1" fill="#000"/>
<line x1="256" y1="425.5" x2="276" y2="425.5" stroke="#000" stroke-width="1" stroke-dasharray="6 2 2 2" stroke-dashoffset="0"/>
<line x1="91" y1="429.5" x2="107" y2="429.5" stroke="#000" stroke-width="1" stroke-dasharray="5 2 2 2" stroke-dashoffset="0"/>
<rect x="107" y="429" width="149" height="1" fill="#000"/>
<line x1="256" y1="429.5" x2="276" y2="429.5" stroke="#000" stroke-width="1" stroke-dasharray="6 2 2 2" stroke-dashoffset="0"/>
<line x1="91" y1="437.5" x2="107" y2="437.5" stroke="#000" stroke-width="1" stroke-dasharray="5 2 2 2" stroke-dashoffset="0"/>
<rect x="107" y="437" width="149" height="1" fill="#000"/>
<line x1="256" y1="437.5" x2="276" y2="437.5" stroke="#000" stroke-width="1" stroke-dasharray="6 2 2 2" stroke-dashoffset="0"/>
<rect x="109" y="381" width="1" height="11" fill="#000"/>
<rect x="109" y="394" width="1" height="2" fill="#000"/>
<rect x="109" y="398" width="1" height="11.5" fill="#000"/>
<rect x="109" y="411" width="1" height="27" fill="#000"/>
<rect x="109" y="440" width="1" height="1.5" fill="#000"/>
<rect x="114" y="381" width="1" height="11" fill="#000"/>
<rect x="114" y="394" width="1" height="2" fill="#000"/>
<rect x="114" y="398" width="1" height="25" fill="#000"/>
<rect x="114" y="424.5" width="1" height="13.5" fill="#000"/>
<rect x="114" y="440" width="1" height="1.5" fill="#000"/>
<rect x="118" y="381" width="1" height="11" fill="#000"/>
<rect x="118" y="394" width="1" height="2" fill="#000"/>
<rect x="118" y="398" width="1" height="40" fill="#000"/>
<rect x="118" y="440" width="1" height="1.5" fill="#000"/>
<rect x="121" y="381" width="1" height="11" fill="#000"/>
<rect x="121" y="394" width="1" height="2" fill="#000"/>
<rect x="121" y="398" width="1" height="11.5" fill="#000"/>
<rect x="121" y="411" width="1" height="27" fill="#000"/>
<rect x="121" y="440" width="1" height="1.5" fill="#000"/>
<rect x="125" y="381" width="1" height="11" fill="#000"/>
<rect x="125" y="394" width="1" height="2" fill="#000"/>
<rect x="125" y="398" width="1" height="25" fill="#000"/>
<rect x="125" y="424.5" width="1" height="13.5" fill="#000"/>
<rect x="125" y="440" width="1" height="1.5" fill="#000"/>
<rect x="127" y="381" width="1" height="11" fill="#000"/>
<rect x="127" y="394" width="1" height="2" fill="#000"/>
<rect x="127" y="398" width="1" height="40" fill="#000"/>
<rect x="127" y="440" width="1" height="1.5" fill="#000"/>
<rect x="130" y="381" width="1" height="11" fill="#000"/>
<rect x="130" y="394" width="1" height="2" fill="#000"/>
<rect x="130" y="398" width="1" height="11.5" fill="#000"/>
<rect x="130" y="411" width="1" height="27" fill="#000"/>
<rect x="130" y="440" width="1" height="1.5" fill="#000"/>
<rect x="133" y="381" width="1" height="11" fill="#000"/>
<rect x="133" y="394" width="1" height="2" fill="#000"/>
<rect x="133" y="398" width="1" height="25" fill="#000"/>
<rect x="133" y="424.5" width="1" height="13.5" fill="#000"/>
<rect x="133" y="440" width="1" height="1.5" fill="#000"/>
<rect x="135" y="381" width="1" height="11" fill="#000"/>
<rect x="135" y="394" width="1" height="2" fill="#000"/>
<rect x="135" y="398" width="1" height="40" fill="#000"/>
<rect x="135" y="440" width="1" height="1.5" fill="#000"/>
<rect x="138" y="381" width="1" height="11" fill="#000"/>
<rect x="138" y="394" width="1" height="2" fill="#000"/>
<rect x="138" y="398" width="1" height="11.5" fill="#000"/>
<rect x="138" y="411" width="1" height="27" fill="#000"/>
<rect x="138" y="440" width="1" height="1.5" fill="#000"/>
<rect x="143" y="381" width="1" height="11" fill="#000"/>
<rect x="143" y="394" width="1" height="2" fill="#000"/>
<rect x="143" y="398" width="1" height="25" fill="#000"/>
<rect x="143" y="424.5" width="1" height="13.5" fill="#000"/>
<rect x="143" y="440" width="1" height="1.5" fill="#000"/>
<rect x="146" y="381" width="1" height="11" fill="#000"/>
<rect x="146" y="394" width="1" height="2" fill="#000"/>
<rect x="146" y="398" width="1" height="40" fill="#000"/>
<rect x="146" y="440" width="1" height="1.5" fill="#000"/>
<rect x="149" y="381" width="1" height="11" fill="#000"/>
<rect x="149" y="394" width="1" height="2" fill="#000"/>
<rect x="149" y="398" width="1" height="11.5" fill="#000"/>
<rect x="149" y="411" width="1" height="27" fill="#000"/>
<rect x="149" y="440" width="1" height="1.5" fill="#000"/>
<rect x="151" y="381" width="1" height="11" fill="#000"/>
<rect x="151" y="394" width="1" height="2" fill="#000"/>
<rect x="151" y="398" width="1" height="25" fill="#000"/>
<rect x="151" y="424.5" width="1" height="13.5" fill="#000"/>
<rect x="151" y="440" width="1" height="1.5" fill="#000"/>
<rect x="153" y="381" width="1" height="11" fill="#000"/>
<rect x="153" y="394" width="1" height="2" fill="#000"/>
<rect x="153" y="398" width="1" height="40" fill="#000"/>
<rect x="153" y="440" width="1" height="1.5" fill="#000"/>
<rect x="158" y="381" width="1" height="11" fill="#000"/>
<rect x="158" y="394" width="1" height="2" fill="#000"/>
<rect x="158" y="398" width="1" height="11.5" fill="#000"/>
<rect x="158" y="411" width="1" height="27" fill="#000"/>
<rect x="158" y="440" width="1" height="1.5" fill="#000"/>
<rect x="161" y="381" width="1" height="11" fill="#000"/>
<rect x="161" y="394" width="1" height="2" fill="#000"/>
<rect x="161" y="398" width="1" height="25" fill="#000"/>
<rect x="161" y="424.5" width="1" height="13.5" fill="#000"/>
<rect x="161" y="440" width="1" height="1.5" fill="#000"/>
<rect x="172" y="381" width="2" height="11" fill="#000"/>
<rect x="172" y="394" width="2" height="2" fill="#000"/>
<rect x="172" y="398" width="2" height="40" fill="#000"/>
<rect x="172" y="440" width="2" height="1.5" fill="#000"/>
<rect x="180" y="381" width="2" height="11" fill="#000"/>
<rect x="180" y="394" width="2" height="2" fill="#000"/>
<rect x="180" y="398" width="2" height="11.5" fill="#000"/>
<rect x="180" y="411" width="2" height="27" fill="#000"/>
<rect x="180" y="440" width="2" height="1.5" fill="#000"/>
<rect x="188" y="381" width="1" height="11" fill="#000"/>
<rect x="188" y="394" width="1" height="2" fill="#000"/>
<rect x="188" y="398" width="1" height="25" fill="#000"/>
<rect x="188" y="424.5" width="1" height="13.5" fill="#000"/>
<rect x="188" y="440" width="1" height="1.5" fill="#000"/>
<rect x="200" y="381" width="1" height="11" fill="#000"/>
<rect x="200" y="394" width="1" height="2" fill="#000"/>
<rect x="200" y="398" width="1" height="40" fill="#000"/>
<rect x="200" y="440" width="1" height="1.5" fill="#000"/>
<rect x="202" y="381" width="1" height="11" fill="#000"/>
<rect x="202" y="394" width="1" height="2" fill="#000"/>
<rect x="202" y="398" width="1" height="11.5" fill="#000"/>
<rect x="202" y="411" width="1" height="27" fill="#000"/>
<rect x="202" y="440" width="1" height="1.5" fill="#000"/>
<rect x="208" y="381" width="1" height="11" fill="#000"/>
<rect x="208" y="394" width="1" height="2" fill="#000"/>
<rect x="208" y="398" width="1" height="25" fill="#000"/>
<rect x="208" y="424.5" width="1" height="13.5" fill="#000"/>
<rect x="208" y="440" width="1" height="1.5" fill="#000"/>
<rect x="210" y="381" width="1" height="11" fill="#000"/>
<rect x="210" y="394" width="1" height="2" fill="#000"/>
<rect x="210" y="398" width="1" height="40" fill="#000"/>
<rect x="210" y="440" width="1" height="1.5" fill="#000"/>
<rect x="214" y="381" width="1" height="11" fill="#000"/>
<rect x="214" y="394" width="1" height="2" fill="#000"/>
<rect x="214" y="398" width="1" height="11.5" fill="#000"/>
<rect x="214" y="411" width="1" height="27" fill="#000"/>
<rect x="214" y="440" width="1" height="1.5" fill="#000"/>
<rect x="218" y="381" width="1" height="11" fill="#000"/>
<rect x="218" y="394" width="1" height="2" fill="#000"/>
<rect x="218" y="398" width="1" height="25" fill="#000"/>
<rect x="218" y="424.5" width="1" height="13.5" fill="#000"/>
<rect x="218" y="440" width="1" height="1.5" fill="#000"/>
<rect x="222" y="381" width="1" height="11" fill="#000"/>
<rect x="222" y="394" width="1" height="2" fill="#000"/>
<rect x="222" y="398" width="1" height="40" fill="#000"/>
<rect x="222" y="440" width="1" height="1.5" fill="#000"/>
<rect x="224" y="381" width="1" height="11" fill="#000"/>
<rect x="224" y="394" width="1" height="2" fill="#000"/>
<rect x="224" y="398" width="1" height="11.5" fill="#000"/>
<rect x="224" y="411" width="1" height="27" fill="#000"/>
<rect x="224" y="440" width="1" height="1.5" fill="#000"/>
<rect x="226" y="381" width="1" height="11" fill="#000"/>
<rect x="226" y="394" width="1" height="2" fill="#000"/>
<rect x="226" y="398" width="1" height="25" fill="#000"/>
<rect x="226" y="424.5" width="1" height="13.5" fill="#000"/>
<rect x="226" y="440" width="1" height="1.5" fill="#000"/>
<rect x="228" y="381" width="1" height="11" fill="#000"/>
<rect x="228" y="394" width="1" height="2" fill="#000"/>
<rect x="228" y="398" width="1" height="40" fill="#000"/>
<rect x="228" y="440" width="1" height="1.5" fill="#000"/>
<rect x="230" y="381" width="1" height="11" fill="#000"/>
<rect x="230" y="394" width="1" height="2" fill="#000"/>
<rect x="230" y="398" width="1" height="11.5" fill="#000"/>
<rect x="230" y="411" width="1" height="27" fill="#000"/>
<rect x="230" y="440" width="1" height="1.5" fill="#000"/>
<rect x="233" y="381" width="1" height="11" fill="#000"/>
<rect x="233" y="394" width="1" height="2" fill="#000"/>
<rect x="233" y="398" width="1" height="25" fill="#000"/>
<rect x="233" y="424.5" width="1" height="13.5" fill="#000"/>
<rect x="233" y="440" width="1" height="1.5" fill="#000"/>
<rect x="236" y="381" width="1" height="11" fill="#000"/>
<rect x="236" y="394" width="1" height="2" fill="#000"/>
<rect x="236" y="398" width="1" height="40" fill="#000"/>
<rect x="236" y="440" width="1" height="1.5" fill="#000"/>
<rect x="239" y="381" width="1" height="11" fill="#000"/>
<rect x="239" y="394" width="1" height="2" fill="#000"/>
<rect x="239" y="398" width="1" height="11.5" fill="#000"/>
<rect x="239" y="411" width="1" height="27" fill="#000"/>
<rect x="239" y="440" width="1" height="1.5" fill="#000"/>
<rect x="242" y="381" width="1" height="11" fill="#000"/>
<rect x="242" y="394" width="1" height="2" fill="#000"/>
<rect x="242" y="398" width="1" height="25" fill="#000"/>
<rect x="242" y="424.5" width="1" height="13.5" fill="#000"/>
<rect x="242" y="440" width="1" height="1.5" fill="#000"/>
<rect x="247" y="381" width="1" height="11" fill="#000"/>
<rect x="247" y="394" width="1" height="2" fill="#000"/>
<rect x="247" y="398" width="1" height="40" fill="#000"/>
<rect x="247" y="440" width="1" height="1.5" fill="#000"/>
<rect x="252" y="381" width="1" height="11" fill="#000"/>
<rect x="252" y="394" width="1" height="2" fill="#000"/>
<rect x="252" y="398" width="1" height="11.5" fill="#000"/>
<rect x="252" y="411" width="1" height="27" fill="#000"/>
<rect x="252" y="440" width="1" height="1.5" fill="#000"/>
<rect x="108" y="385" width="145" height="1" fill="#2f5a48"/>
<rect x="95" y="399" width="1" height="39" fill="#2f5a48"/>
<rect x="97" y="399" width="1" height="39" fill="#2f5a48"/>
<rect x="271" y="399" width="1" height="39" fill="#2f5a48"/>
<rect x="273" y="399" width="1" height="39" fill="#2f5a48"/>
<rect x="90" y="397" width="3" height="3" fill="#000"/>
<rect x="274" y="397" width="3" height="3" fill="#000"/>
<rect x="90" y="404" width="3" height="3" fill="#000"/>
<rect x="274" y="404" width="3" height="3" fill="#000"/>
<rect x="90" y="407" width="3" height="3" fill="#000"/>
<rect x="274" y="407" width="3" height="3" fill="#000"/>
<rect x="90" y="415" width="3" height="3" fill="#000"/>
<rect x="274" y="415" width="3" height="3" fill="#000"/>
<rect x="90" y="419" width="3" height="3" fill="#000"/>
<rect x="274" y="419" width="3" height="3" fill="#000"/>
<rect x="90" y="424" width="3" height="3" fill="#000"/>
<rect x="274" y="424" width="3" height="3" fill="#000"/>
<rect x="90" y="428" width="3" height="3" fill="#000"/>
<rect x="274" y="428" width="3" height="3" fill="#000"/>
<rect x="90" y="436" width="3" height="3" fill="#000"/>
<rect x="274" y="436" width="3" height="3" fill="#000"/>
<rect x="89.5" y="417" width="3" height="6" fill="#000"/>
<rect x="274" y="417" width="3" height="6" fill="#000"/>
<line x1="91" y1="447.5" x2="255" y2="447.5" stroke="#000" stroke-width="1" stroke-dasharray="13.6 1.4 2.4 1.4" stroke-dashoffset="10.4"/>
<line x1="91" y1="456.5" x2="504" y2="456.5" stroke="#000" stroke-width="1" stroke-dasharray="13.6 1.4 2.4 1.4" stroke-dashoffset="10.4"/>
<rect x="91" y="466" width="413" height="1" fill="#000"/>
<rect x="91" y="468" width="413" height="1" fill="#000"/>
<line x1="91" y1="477" x2="504" y2="477" stroke="#000" stroke-width="2" stroke-dasharray="13.6 1.4 2.4 1.4" stroke-dashoffset="10.4"/>
<line x1="91" y1="491" x2="504" y2="491" stroke="#000" stroke-width="2" stroke-dasharray="13.6 1.4 2.4 1.4" stroke-dashoffset="10.4"/>
<line x1="91" y1="501.5" x2="504" y2="501.5" stroke="#000" stroke-width="1" stroke-dasharray="13.6 1.4 2.4 1.4" stroke-dashoffset="10.4"/>
<line x1="91" y1="512.5" x2="504" y2="512.5" stroke="#000" stroke-width="1" stroke-dasharray="13.6 1.4 2.4 1.4" stroke-dashoffset="10.4"/>
<rect x="93" y="447" width="11" height="1" fill="#000"/>
<rect x="92" y="476" width="13" height="2" fill="#000"/>
<rect x="92" y="490" width="13" height="2" fill="#000"/>
<rect x="491" y="476" width="12" height="2" fill="#000"/>
<rect x="491" y="490" width="12" height="2" fill="#000"/>
<rect x="90" y="455" width="3" height="3" fill="#000"/>
<rect x="90.5" y="463.5" width="2" height="7" fill="#fff" stroke="#000"/>
<rect x="90" y="474" width="4" height="6" rx="1.5" fill="#000" shape-rendering="auto"/>
<rect x="90" y="488" width="4" height="6" rx="1.5" fill="#000" shape-rendering="auto"/>
<rect x="503.5" y="455.5" width="2" height="2" fill="#fff" stroke="#000"/>
<rect x="503.5" y="463.5" width="2.5" height="7" fill="#fff" stroke="#000" stroke-width="1.4"/>
<rect x="502.5" y="474" width="4" height="6" rx="1.3" fill="#000" shape-rendering="auto"/>
<rect x="504.5" y="476.5" width="1" height="1" fill="#fff"/>
<rect x="502.5" y="488" width="4" height="6" rx="1.3" fill="#000" shape-rendering="auto"/>
<rect x="504.5" y="490.5" width="1" height="1" fill="#fff"/>
<line x1="105.5" y1="443" x2="105.5" y2="500" stroke="#000" stroke-width="1" stroke-dasharray="12 1.3 2.5 1.3" stroke-dashoffset="10.7"/>
<rect x="105" y="500" width="1" height="20" fill="#000"/>
<rect x="104" y="519.5" width="3" height="3" fill="#000"/>
<line x1="110.5" y1="443" x2="110.5" y2="500" stroke="#000" stroke-width="1" stroke-dasharray="12 1.3 2.5 1.3" stroke-dashoffset="10.7"/>
<rect x="110" y="500" width="1" height="20" fill="#000"/>
<rect x="109" y="519.5" width="3" height="3" fill="#000"/>
<line x1="112.5" y1="443" x2="112.5" y2="500" stroke="#000" stroke-width="1" stroke-dasharray="12 1.3 2.5 1.3" stroke-dashoffset="10.7"/>
<rect x="112" y="500" width="1" height="20" fill="#000"/>
<rect x="111" y="519.5" width="3" height="3" fill="#000"/>
<line x1="124.5" y1="443" x2="124.5" y2="500" stroke="#000" stroke-width="1" stroke-dasharray="12 1.3 2.5 1.3" stroke-dashoffset="10.7"/>
<rect x="124" y="500" width="1" height="20" fill="#000"/>
<rect x="123" y="519.5" width="3" height="3" fill="#000"/>
<line x1="129.5" y1="443" x2="129.5" y2="500" stroke="#000" stroke-width="1" stroke-dasharray="12 1.3 2.5 1.3" stroke-dashoffset="10.7"/>
<rect x="129" y="500" width="1" height="20" fill="#000"/>
<rect x="128" y="519.5" width="3" height="3" fill="#000"/>
<line x1="135" y1="443" x2="135" y2="500" stroke="#000" stroke-width="2" stroke-dasharray="12 1.3 2.5 1.3" stroke-dashoffset="7"/>
<rect x="134" y="500" width="2" height="20" fill="#000"/>
<rect x="133" y="519.5" width="4" height="3" fill="#000"/>
<line x1="140.5" y1="443" x2="140.5" y2="500" stroke="#000" stroke-width="1" stroke-dasharray="12 1.3 2.5 1.3" stroke-dashoffset="10.7"/>
<rect x="140" y="500" width="1" height="20" fill="#000"/>
<rect x="139" y="519.5" width="3" height="3" fill="#000"/>
<line x1="149" y1="443" x2="149" y2="500" stroke="#000" stroke-width="2" stroke-dasharray="12 1.3 2.5 1.3" stroke-dashoffset="7"/>
<rect x="148" y="500" width="2" height="20" fill="#000"/>
<rect x="147" y="519.5" width="4" height="3" fill="#000"/>
<line x1="154.5" y1="443" x2="154.5" y2="500" stroke="#000" stroke-width="1" stroke-dasharray="12 1.3 2.5 1.3" stroke-dashoffset="10.7"/>
<rect x="154" y="500" width="1" height="20" fill="#000"/>
<rect x="153" y="519.5" width="3" height="3" fill="#000"/>
<line x1="159.5" y1="443" x2="159.5" y2="500" stroke="#000" stroke-width="1" stroke-dasharray="12 1.3 2.5 1.3" stroke-dashoffset="10.7"/>
<rect x="159" y="500" width="1" height="20" fill="#000"/>
<rect x="158" y="519.5" width="3" height="3" fill="#000"/>
<line x1="172.5" y1="443" x2="172.5" y2="500" stroke="#000" stroke-width="1" stroke-dasharray="12 1.3 2.5 1.3" stroke-dashoffset="10.7"/>
<rect x="172" y="500" width="1" height="20" fill="#000"/>
<rect x="171" y="519.5" width="3" height="3" fill="#000"/>
<line x1="181" y1="443" x2="181" y2="500" stroke="#000" stroke-width="2" stroke-dasharray="12 1.3 2.5 1.3" stroke-dashoffset="7"/>
<rect x="180" y="500" width="2" height="20" fill="#000"/>
<rect x="179" y="519.5" width="4" height="3" fill="#000"/>
<line x1="188.5" y1="443" x2="188.5" y2="500" stroke="#000" stroke-width="1" stroke-dasharray="12 1.3 2.5 1.3" stroke-dashoffset="10.7"/>
<rect x="188" y="500" width="1" height="20" fill="#000"/>
<rect x="187" y="519.5" width="3" height="3" fill="#000"/>
<line x1="190.5" y1="443" x2="190.5" y2="500" stroke="#000" stroke-width="1" stroke-dasharray="12 1.3 2.5 1.3" stroke-dashoffset="10.7"/>
<rect x="190" y="500" width="1" height="20" fill="#000"/>
<rect x="189" y="519.5" width="3" height="3" fill="#000"/>
<line x1="202.5" y1="443" x2="202.5" y2="500" stroke="#000" stroke-width="1" stroke-dasharray="12 1.3 2.5 1.3" stroke-dashoffset="10.7"/>
<rect x="202" y="500" width="1" height="20" fill="#000"/>
<rect x="201" y="519.5" width="3" height="3" fill="#000"/>
<line x1="207.5" y1="443" x2="207.5" y2="500" stroke="#000" stroke-width="1" stroke-dasharray="12 1.3 2.5 1.3" stroke-dashoffset="10.7"/>
<rect x="207" y="500" width="1" height="20" fill="#000"/>
<rect x="206" y="519.5" width="3" height="3" fill="#000"/>
<line x1="213" y1="443" x2="213" y2="500" stroke="#000" stroke-width="2" stroke-dasharray="12 1.3 2.5 1.3" stroke-dashoffset="7"/>
<rect x="212" y="500" width="2" height="20" fill="#000"/>
<rect x="211" y="519.5" width="4" height="3" fill="#000"/>
<line x1="218.5" y1="443" x2="218.5" y2="500" stroke="#000" stroke-width="1" stroke-dasharray="12 1.3 2.5 1.3" stroke-dashoffset="10.7"/>
<rect x="218" y="500" width="1" height="20" fill="#000"/>
<rect x="217" y="519.5" width="3" height="3" fill="#000"/>
<line x1="227" y1="443" x2="227" y2="500" stroke="#000" stroke-width="2" stroke-dasharray="12 1.3 2.5 1.3" stroke-dashoffset="7"/>
<rect x="226" y="500" width="2" height="20" fill="#000"/>
<rect x="225" y="519.5" width="4" height="3" fill="#000"/>
<line x1="232.5" y1="443" x2="232.5" y2="500" stroke="#000" stroke-width="1" stroke-dasharray="12 1.3 2.5 1.3" stroke-dashoffset="10.7"/>
<rect x="232" y="500" width="1" height="20" fill="#000"/>
<rect x="231" y="519.5" width="3" height="3" fill="#000"/>
<line x1="237.5" y1="443" x2="237.5" y2="500" stroke="#000" stroke-width="1" stroke-dasharray="12 1.3 2.5 1.3" stroke-dashoffset="10.7"/>
<rect x="237" y="500" width="1" height="20" fill="#000"/>
<rect x="236" y="519.5" width="3" height="3" fill="#000"/>
<line x1="249.75" y1="443" x2="249.75" y2="500" stroke="#000" stroke-width="1.5" stroke-dasharray="12 1.3 2.5 1.3" stroke-dashoffset="10.7"/>
<rect x="249" y="500" width="1.5" height="20" fill="#000"/>
<rect x="248" y="519.5" width="3.5" height="3" fill="#000"/>
<rect x="258" y="446" width="2" height="74" fill="#000"/>
<rect x="256.5" y="445" width="5" height="2" fill="#000"/>
<rect x="257" y="519.5" width="4" height="3" fill="#000"/>
<rect x="266" y="446" width="1" height="74" fill="#000"/>
<rect x="264.5" y="445" width="4" height="2" fill="#000"/>
<rect x="265" y="519.5" width="3" height="3" fill="#000"/>
<rect x="268" y="446" width="1" height="74" fill="#000"/>
<rect x="266.5" y="445" width="4" height="2" fill="#000"/>
<rect x="267" y="519.5" width="3" height="3" fill="#000"/>
<rect x="280" y="446" width="1" height="74" fill="#000"/>
<rect x="278.5" y="445" width="4" height="2" fill="#000"/>
<rect x="279" y="519.5" width="3" height="3" fill="#000"/>
<rect x="285" y="446" width="2" height="74" fill="#000"/>
<rect x="283.5" y="445" width="5" height="2" fill="#000"/>
<rect x="284" y="519.5" width="4" height="3" fill="#000"/>
<rect x="290" y="446" width="1.5" height="74" fill="#000"/>
<rect x="288.5" y="445" width="4.5" height="2" fill="#000"/>
<rect x="289" y="519.5" width="3.5" height="3" fill="#000"/>
<rect x="296" y="446" width="1" height="74" fill="#000"/>
<rect x="294.5" y="445" width="4" height="2" fill="#000"/>
<rect x="295" y="519.5" width="3" height="3" fill="#000"/>
<rect x="304" y="446" width="2" height="74" fill="#000"/>
<rect x="302.5" y="445" width="5" height="2" fill="#000"/>
<rect x="303" y="519.5" width="4" height="3" fill="#000"/>
<rect x="310" y="446" width="1" height="74" fill="#000"/>
<rect x="308.5" y="445" width="4" height="2" fill="#000"/>
<rect x="309" y="519.5" width="3" height="3" fill="#000"/>
<rect x="315" y="446" width="1" height="74" fill="#000"/>
<rect x="313.5" y="445" width="4" height="2" fill="#000"/>
<rect x="314" y="519.5" width="3" height="3" fill="#000"/>
<rect x="327" y="446" width="1" height="74" fill="#000"/>
<rect x="325.5" y="445" width="4" height="2" fill="#000"/>
<rect x="326" y="519.5" width="3" height="3" fill="#000"/>
<rect x="329" y="446" width="1" height="74" fill="#000"/>
<rect x="327.5" y="445" width="4" height="2" fill="#000"/>
<rect x="328" y="519.5" width="3" height="3" fill="#000"/>
<rect x="336" y="446" width="2" height="74" fill="#000"/>
<rect x="334.5" y="445" width="5" height="2" fill="#000"/>
<rect x="335" y="519.5" width="4" height="3" fill="#000"/>
<rect x="344" y="446" width="1" height="74" fill="#000"/>
<rect x="342.5" y="445" width="4" height="2" fill="#000"/>
<rect x="343" y="519.5" width="3" height="3" fill="#000"/>
<rect x="346" y="446" width="1" height="74" fill="#000"/>
<rect x="344.5" y="445" width="4" height="2" fill="#000"/>
<rect x="345" y="519.5" width="3" height="3" fill="#000"/>
<rect x="358" y="446" width="1" height="74" fill="#000"/>
<rect x="356.5" y="445" width="4" height="2" fill="#000"/>
<rect x="357" y="519.5" width="3" height="3" fill="#000"/>
<rect x="364" y="446" width="1" height="74" fill="#000"/>
<rect x="362.5" y="445" width="4" height="2" fill="#000"/>
<rect x="363" y="519.5" width="3" height="3" fill="#000"/>
<rect x="368" y="446" width="2" height="74" fill="#000"/>
<rect x="366.5" y="445" width="5" height="2" fill="#000"/>
<rect x="367" y="519.5" width="4" height="3" fill="#000"/>
<rect x="374" y="446" width="1" height="74" fill="#000"/>
<rect x="372.5" y="445" width="4" height="2" fill="#000"/>
<rect x="373" y="519.5" width="3" height="3" fill="#000"/>
<rect x="382" y="446" width="2" height="74" fill="#000"/>
<rect x="380.5" y="445" width="5" height="2" fill="#000"/>
<rect x="381" y="519.5" width="4" height="3" fill="#000"/>
<rect x="388" y="446" width="1" height="74" fill="#000"/>
<rect x="386.5" y="445" width="4" height="2" fill="#000"/>
<rect x="387" y="519.5" width="3" height="3" fill="#000"/>
<rect x="392" y="446" width="1" height="74" fill="#000"/>
<rect x="390.5" y="445" width="4" height="2" fill="#000"/>
<rect x="391" y="519.5" width="3" height="3" fill="#000"/>
<rect x="405" y="446" width="1" height="74" fill="#000"/>
<rect x="403.5" y="445" width="4" height="2" fill="#000"/>
<rect x="404" y="519.5" width="3" height="3" fill="#000"/>
<rect x="407" y="446" width="1" height="74" fill="#000"/>
<rect x="405.5" y="445" width="4" height="2" fill="#000"/>
<rect x="406" y="519.5" width="3" height="3" fill="#000"/>
<rect x="414" y="446" width="2" height="74" fill="#000"/>
<rect x="412.5" y="445" width="5" height="2" fill="#000"/>
<rect x="413" y="519.5" width="4" height="3" fill="#000"/>
<rect x="423" y="446" width="1" height="74" fill="#000"/>
<rect x="421.5" y="445" width="4" height="2" fill="#000"/>
<rect x="422" y="519.5" width="3" height="3" fill="#000"/>
<rect x="425" y="446" width="1" height="74" fill="#000"/>
<rect x="423.5" y="445" width="4" height="2" fill="#000"/>
<rect x="424" y="519.5" width="3" height="3" fill="#000"/>
<rect x="427" y="446" width="1" height="74" fill="#000"/>
<rect x="425.5" y="445" width="4" height="2" fill="#000"/>
<rect x="426" y="519.5" width="3" height="3" fill="#000"/>
<rect x="436" y="446" width="1" height="74" fill="#000"/>
<rect x="434.5" y="445" width="4" height="2" fill="#000"/>
<rect x="435" y="519.5" width="3" height="3" fill="#000"/>
<rect x="441" y="446" width="1" height="74" fill="#000"/>
<rect x="439.5" y="445" width="4" height="2" fill="#000"/>
<rect x="440" y="519.5" width="3" height="3" fill="#000"/>
<rect x="446" y="446" width="1.5" height="74" fill="#000"/>
<rect x="444.5" y="445" width="4.5" height="2" fill="#000"/>
<rect x="445" y="519.5" width="3.5" height="3" fill="#000"/>
<rect x="452" y="446" width="1" height="74" fill="#000"/>
<rect x="450.5" y="445" width="4" height="2" fill="#000"/>
<rect x="451" y="519.5" width="3" height="3" fill="#000"/>
<rect x="460" y="446" width="2" height="74" fill="#000"/>
<rect x="458.5" y="445" width="5" height="2" fill="#000"/>
<rect x="459" y="519.5" width="4" height="3" fill="#000"/>
<rect x="466" y="446" width="1" height="74" fill="#000"/>
<rect x="464.5" y="445" width="4" height="2" fill="#000"/>
<rect x="465" y="519.5" width="3" height="3" fill="#000"/>
<rect x="471" y="446" width="1" height="74" fill="#000"/>
<rect x="469.5" y="445" width="4" height="2" fill="#000"/>
<rect x="470" y="519.5" width="3" height="3" fill="#000"/>
<rect x="483" y="446" width="1" height="74" fill="#000"/>
<rect x="481.5" y="445" width="4" height="2" fill="#000"/>
<rect x="482" y="519.5" width="3" height="3" fill="#000"/>
<rect x="485" y="446" width="1" height="74" fill="#000"/>
<rect x="483.5" y="445" width="4" height="2" fill="#000"/>
<rect x="484" y="519.5" width="3" height="3" fill="#000"/>
<rect x="490" y="446" width="1" height="74" fill="#000"/>
<rect x="488.5" y="445" width="4" height="2" fill="#000"/>
<rect x="489" y="519.5" width="3" height="3" fill="#000"/>
<rect x="255" y="448" width="145" height="1" fill="#2f5a48"/>
<rect x="255" y="517" width="145" height="1" fill="#2f5a48"/>
</g>
<g>
<polyline points="84,35.5 86,37 84,38.5" fill="none" stroke="#000" stroke-width="0.8"/>
<polyline points="84,45.5 86,47 84,48.5" fill="none" stroke="#000" stroke-width="0.8"/>
<polyline points="84,58.5 86,60 84,61.5" fill="none" stroke="#000" stroke-width="0.8"/>
<polygon points="238,50 246,50 246.5,53 247,54 246.5,56 246,59.5 236,59.5 237,56.5 237.5,53" fill="#000" stroke="#000" stroke-width="0.5"/>
<rect x="239.3" y="52.6" width="1.6" height="1" fill="#fff"/>
<rect x="242.3" y="52.6" width="1.8" height="1" fill="#fff"/>
<rect x="240" y="55" width="1" height="1.3" fill="#fff"/>
<polyline points="342.5,37 353,33 353,41 342.5,38.5" fill="#fff" stroke="#000" stroke-width="1"/>
<path d="M341.5 49 C347 46 353 50 353 57" fill="none" stroke="#000" stroke-width="1"/>
<polyline points="349.5,25 352,22 352,12" fill="none" stroke="#000" stroke-width="1"/>
<polyline points="349.5,84 351,81 353,81" fill="none" stroke="#000" stroke-width="1"/>
<polyline points="605,35.5 616,32.5 616,41.5 605,38.5" fill="#fff" stroke="#000" stroke-width="1"/>
<path d="M616.5 10 V17 C616.5 23 612 26.5 606 26.5" fill="none" stroke="#000" stroke-width="1"/>
<path d="M606 47 C612 47 616.5 52 616.5 58" fill="none" stroke="#000" stroke-width="1"/>
<rect x="180" y="247.5" width="3" height="8" fill="#ff00ff"/>
<rect x="181" y="246.5" width="2" height="10" fill="#ff00ff"/>
<rect x="184" y="246" width="1" height="1.5" fill="#ff00ff"/>
<rect x="184" y="258" width="1" height="2" fill="#ff00ff"/>
<rect x="181.5" y="275" width="3.4" height="4.5" fill="#ff00ff"/>
<rect x="180.2" y="279" width="4.8" height="5.6" fill="#ff00ff"/>
<rect x="183" y="129" width="1.4" height="178" fill="#ff00ff"/>
<line x1="473.7" y1="129" x2="474.6" y2="379" stroke="#000" stroke-width="1.2"/>
<rect x="473.4" y="322" width="2" height="14" fill="#000"/>
<rect x="475.2" y="325" width="0.8" height="8" fill="#000"/>
<rect x="473.5" y="368" width="2.6" height="10" fill="#000"/>
<polyline points="134,298.5 138,307.5 155,307.5 159,298.5" fill="none" stroke="#ff6688" stroke-width="1"/>
<rect x="146" y="301.5" width="1" height="12.5" fill="#808080"/>
<rect x="147" y="302.5" width="1.4" height="10.5" fill="#b3005e"/>
<rect x="144.5" y="313" width="5" height="1" fill="#808080"/>
<polyline points="359,298.5 363,307.5 379,307.5 383,298.5" fill="none" stroke="#ff6688" stroke-width="1"/>
<rect x="370" y="301.5" width="1" height="12.5" fill="#808080"/>
<rect x="371" y="302.5" width="1.4" height="10.5" fill="#b3005e"/>
<rect x="368.5" y="313" width="5" height="1" fill="#808080"/>
<polyline points="414,394 418,402.5 434.5,402.5 438.5,394" fill="none" stroke="#ff6688" stroke-width="1"/>
<rect x="425" y="396" width="1" height="13.5" fill="#808080"/>
<rect x="426" y="397" width="1.4" height="11.5" fill="#b3005e"/>
<rect x="423.5" y="408.5" width="5" height="1" fill="#808080"/>
<polyline points="519,394 523,402.5 539,402.5 543,394" fill="none" stroke="#ff6688" stroke-width="1"/>
<rect x="530" y="396" width="1" height="13.5" fill="#808080"/>
<rect x="531" y="397" width="1.4" height="11.5" fill="#b3005e"/>
<rect x="528.5" y="408.5" width="5" height="1" fill="#808080"/>
<rect x="555" y="397" width="1" height="12.5" fill="#808080"/>
<rect x="556" y="398" width="1.4" height="10.5" fill="#b3005e"/>
<rect x="553.5" y="408.5" width="5" height="1" fill="#808080"/>
<path d="M380.6 394.5 V389.2 A4.4 4.6 0 0 1 389.4 389.2 V394.5" fill="none" stroke="#ffaa55" stroke-width="1"/>
<path d="M382.3 394.5 V389.6 A2.7 3.0 0 0 1 387.7 389.6 V394.5" fill="none" stroke="#ffaa55" stroke-width="1"/>
<line x1="374.2" y1="380.2" x2="379.8" y2="385.4" stroke="#5a5a5a" stroke-width="0.9"/>
<line x1="379.4" y1="379.2" x2="381.7" y2="383.4" stroke="#5a5a5a" stroke-width="0.9"/>
<line x1="382.5" y1="376.2" x2="383.6" y2="382.8" stroke="#5a5a5a" stroke-width="0.9"/>
<line x1="386.5" y1="377.2" x2="386.5" y2="382.8" stroke="#5a5a5a" stroke-width="0.9"/>
<line x1="391.5" y1="377.2" x2="388.6" y2="383.8" stroke="#5a5a5a" stroke-width="0.9"/>
<line x1="393.8" y1="381.2" x2="389.6" y2="385.4" stroke="#5a5a5a" stroke-width="0.9"/>
<line x1="373.2" y1="385.3" x2="378.8" y2="387.7" stroke="#5a5a5a" stroke-width="0.9"/>
<line x1="397.7" y1="384.1" x2="391.2" y2="386.5" stroke="#5a5a5a" stroke-width="0.9"/>
<g clip-path="url(#cp1)" shape-rendering="crispEdges" stroke="#000" stroke-width="1"><line x1="334.3" y1="317.2" x2="417.4" y2="369.2"/><line x1="332.7" y1="319.7" x2="415.8" y2="371.6"/><line x1="331.2" y1="322.2" x2="414.3" y2="374.1"/><line x1="329.6" y1="324.6" x2="412.8" y2="376.5"/><line x1="328.1" y1="327.1" x2="411.2" y2="379.0"/><line x1="326.6" y1="329.5" x2="409.7" y2="381.5"/><line x1="325.0" y1="332.0" x2="408.1" y2="383.9"/><line x1="323.5" y1="334.4" x2="406.6" y2="386.4"/><line x1="322.0" y1="336.9" x2="405.1" y2="388.8"/><line x1="320.4" y1="339.4" x2="403.5" y2="391.3"/><line x1="318.9" y1="341.8" x2="402.0" y2="393.8"/><line x1="317.3" y1="344.3" x2="400.5" y2="396.2"/><line x1="315.8" y1="346.7" x2="398.9" y2="398.7"/><line x1="314.3" y1="349.2" x2="397.4" y2="401.1"/><line x1="312.7" y1="351.7" x2="395.8" y2="403.6"/><line x1="311.2" y1="354.1" x2="394.3" y2="406.1"/><line x1="309.7" y1="356.6" x2="392.8" y2="408.5"/><line x1="308.1" y1="359.0" x2="391.2" y2="411.0"/><line x1="306.6" y1="361.5" x2="389.7" y2="413.4"/><line x1="305.1" y1="364.0" x2="388.2" y2="415.9"/><line x1="303.5" y1="366.4" x2="386.6" y2="418.4"/><line x1="302.0" y1="368.9" x2="385.1" y2="420.8"/><line x1="300.4" y1="371.3" x2="383.6" y2="423.3"/><line x1="298.9" y1="373.8" x2="382.0" y2="425.7"/><line x1="297.4" y1="376.3" x2="380.5" y2="428.2"/><line x1="295.8" y1="378.7" x2="378.9" y2="430.6"/><line x1="294.3" y1="381.2" x2="377.4" y2="433.1"/><line x1="292.8" y1="383.6" x2="375.9" y2="435.6"/><line x1="291.2" y1="386.1" x2="374.3" y2="438.0"/><line x1="289.7" y1="388.6" x2="372.8" y2="440.5"/><line x1="288.1" y1="391.0" x2="371.3" y2="442.9"/><line x1="286.6" y1="393.5" x2="369.7" y2="445.4"/><line x1="285.1" y1="395.9" x2="368.2" y2="447.9"/><line x1="283.5" y1="398.4" x2="366.6" y2="450.3"/><line x1="281.9" y1="393.5" x2="342.3" y2="316.3"/><line x1="284.4" y1="395.4" x2="344.7" y2="318.2"/><line x1="286.8" y1="397.3" x2="347.1" y2="320.1"/><line x1="289.3" y1="399.2" x2="349.6" y2="322.0"/><line x1="291.7" y1="401.1" x2="352.0" y2="323.9"/><line x1="294.1" y1="403.0" x2="354.5" y2="325.8"/><line x1="296.6" y1="405.0" x2="356.9" y2="327.7"/><line x1="299.0" y1="406.9" x2="359.4" y2="329.6"/><line x1="301.5" y1="408.8" x2="361.8" y2="331.5"/><line x1="303.9" y1="410.7" x2="364.2" y2="333.5"/><line x1="306.4" y1="412.6" x2="366.7" y2="335.4"/><line x1="308.8" y1="414.5" x2="369.1" y2="337.3"/><line x1="311.2" y1="416.4" x2="371.6" y2="339.2"/><line x1="313.7" y1="418.3" x2="374.0" y2="341.1"/><line x1="316.1" y1="420.2" x2="376.5" y2="343.0"/><line x1="318.6" y1="422.1" x2="378.9" y2="344.9"/><line x1="321.0" y1="424.0" x2="381.3" y2="346.8"/><line x1="323.5" y1="425.9" x2="383.8" y2="348.7"/><line x1="325.9" y1="427.9" x2="386.2" y2="350.6"/><line x1="328.3" y1="429.8" x2="388.7" y2="352.5"/><line x1="330.8" y1="431.7" x2="391.1" y2="354.4"/><line x1="333.2" y1="433.6" x2="393.6" y2="356.4"/><line x1="335.7" y1="435.5" x2="396.0" y2="358.3"/><line x1="338.1" y1="437.4" x2="398.4" y2="360.2"/><line x1="340.6" y1="439.3" x2="400.9" y2="362.1"/><line x1="343.0" y1="441.2" x2="403.3" y2="364.0"/><line x1="345.4" y1="443.1" x2="405.8" y2="365.9"/><line x1="347.9" y1="445.0" x2="408.2" y2="367.8"/><line x1="350.3" y1="446.9" x2="410.7" y2="369.7"/><line x1="352.8" y1="448.8" x2="413.1" y2="371.6"/><line x1="355.2" y1="450.8" x2="415.5" y2="373.5"/><line x1="357.7" y1="452.7" x2="418.0" y2="375.4"/><line x1="394.5" y1="331.4" x2="403.1" y2="429.0"/><line x1="385.6" y1="332.2" x2="394.1" y2="429.8"/><line x1="376.6" y1="333.0" x2="385.2" y2="430.6"/><line x1="367.6" y1="333.8" x2="376.2" y2="431.4"/><line x1="358.7" y1="334.6" x2="367.2" y2="432.2"/><line x1="349.7" y1="335.3" x2="358.3" y2="433.0"/><line x1="340.7" y1="336.1" x2="349.3" y2="433.7"/><line x1="331.8" y1="336.9" x2="340.3" y2="434.5"/><line x1="322.8" y1="337.7" x2="331.4" y2="435.3"/><line x1="313.9" y1="338.5" x2="322.4" y2="436.1"/><line x1="304.9" y1="339.3" x2="313.4" y2="436.9"/></g>
<polygon points="326,360 342.5,360 374,402.5 374,409 367,409 367,405.5 362,405.5 362,402.5 356,402.5 355.5,400 349,395 343.5,388 339,380 338,370.5 337.5,369 331.5,369 331.5,365.5 326,365.5" fill="none" stroke="#000" stroke-width="1.3"/>
<g clip-path="url(#cp2)" shape-rendering="crispEdges" stroke="#000" stroke-width="1"><line x1="524.1" y1="366.4" x2="605.5" y2="417.2"/><line x1="522.5" y1="368.8" x2="603.9" y2="419.7"/><line x1="521.0" y1="371.3" x2="602.4" y2="422.2"/><line x1="519.5" y1="373.7" x2="600.9" y2="424.6"/><line x1="517.9" y1="376.2" x2="599.3" y2="427.1"/><line x1="516.4" y1="378.7" x2="597.8" y2="429.5"/><line x1="514.9" y1="381.1" x2="596.3" y2="432.0"/><line x1="513.3" y1="383.6" x2="594.7" y2="434.4"/><line x1="511.8" y1="386.0" x2="593.2" y2="436.9"/><line x1="510.2" y1="388.5" x2="591.7" y2="439.4"/><line x1="508.7" y1="391.0" x2="590.1" y2="441.8"/><line x1="507.2" y1="393.4" x2="588.6" y2="444.3"/><line x1="505.6" y1="395.9" x2="587.0" y2="446.7"/><line x1="504.1" y1="398.3" x2="585.5" y2="449.2"/><line x1="502.6" y1="400.8" x2="584.0" y2="451.7"/><line x1="501.0" y1="403.3" x2="582.4" y2="454.1"/><line x1="499.5" y1="405.7" x2="580.9" y2="456.6"/><line x1="497.9" y1="408.2" x2="579.4" y2="459.0"/><line x1="496.4" y1="410.6" x2="577.8" y2="461.5"/><line x1="494.9" y1="413.1" x2="576.3" y2="464.0"/><line x1="493.3" y1="415.5" x2="574.7" y2="466.4"/><line x1="491.8" y1="418.0" x2="573.2" y2="468.9"/><line x1="490.3" y1="420.5" x2="571.7" y2="471.3"/><line x1="488.7" y1="422.9" x2="570.1" y2="473.8"/><line x1="487.2" y1="425.4" x2="568.6" y2="476.3"/><line x1="485.7" y1="427.8" x2="567.1" y2="478.7"/><line x1="484.1" y1="430.3" x2="565.5" y2="481.2"/><line x1="482.6" y1="432.8" x2="564.0" y2="483.6"/><line x1="481.0" y1="435.2" x2="562.5" y2="486.1"/><line x1="479.5" y1="437.7" x2="560.9" y2="488.6"/><line x1="478.0" y1="440.1" x2="559.4" y2="491.0"/><line x1="476.4" y1="442.6" x2="557.8" y2="493.5"/><line x1="474.9" y1="445.1" x2="556.3" y2="495.9"/><line x1="473.4" y1="447.5" x2="554.8" y2="498.4"/><line x1="472.8" y1="441.1" x2="531.9" y2="365.4"/><line x1="475.3" y1="443.0" x2="534.4" y2="367.3"/><line x1="477.7" y1="444.9" x2="536.8" y2="369.2"/><line x1="480.2" y1="446.8" x2="539.3" y2="371.2"/><line x1="482.6" y1="448.7" x2="541.7" y2="373.1"/><line x1="485.0" y1="450.6" x2="544.2" y2="375.0"/><line x1="487.5" y1="452.5" x2="546.6" y2="376.9"/><line x1="489.9" y1="454.4" x2="549.0" y2="378.8"/><line x1="492.4" y1="456.3" x2="551.5" y2="380.7"/><line x1="494.8" y1="458.3" x2="553.9" y2="382.6"/><line x1="497.3" y1="460.2" x2="556.4" y2="384.5"/><line x1="499.7" y1="462.1" x2="558.8" y2="386.4"/><line x1="502.1" y1="464.0" x2="561.3" y2="388.3"/><line x1="504.6" y1="465.9" x2="563.7" y2="390.2"/><line x1="507.0" y1="467.8" x2="566.1" y2="392.1"/><line x1="509.5" y1="469.7" x2="568.6" y2="394.1"/><line x1="511.9" y1="471.6" x2="571.0" y2="396.0"/><line x1="514.4" y1="473.5" x2="573.5" y2="397.9"/><line x1="516.8" y1="475.4" x2="575.9" y2="399.8"/><line x1="519.2" y1="477.3" x2="578.4" y2="401.7"/><line x1="521.7" y1="479.2" x2="580.8" y2="403.6"/><line x1="524.1" y1="481.2" x2="583.2" y2="405.5"/><line x1="526.6" y1="483.1" x2="585.7" y2="407.4"/><line x1="529.0" y1="485.0" x2="588.1" y2="409.3"/><line x1="531.5" y1="486.9" x2="590.6" y2="411.2"/><line x1="533.9" y1="488.8" x2="593.0" y2="413.1"/><line x1="536.3" y1="490.7" x2="595.5" y2="415.1"/><line x1="538.8" y1="492.6" x2="597.9" y2="417.0"/><line x1="541.2" y1="494.5" x2="600.3" y2="418.9"/><line x1="543.7" y1="496.4" x2="602.8" y2="420.8"/><line x1="546.1" y1="498.3" x2="605.2" y2="422.7"/><line x1="583.1" y1="380.2" x2="591.5" y2="475.9"/><line x1="574.2" y1="381.0" x2="582.5" y2="476.7"/><line x1="565.2" y1="381.8" x2="573.6" y2="477.5"/><line x1="556.2" y1="382.6" x2="564.6" y2="478.2"/><line x1="547.3" y1="383.4" x2="555.6" y2="479.0"/><line x1="538.3" y1="384.2" x2="546.7" y2="479.8"/><line x1="529.3" y1="385.0" x2="537.7" y2="480.6"/><line x1="520.4" y1="385.7" x2="528.7" y2="481.4"/><line x1="511.4" y1="386.5" x2="519.8" y2="482.2"/><line x1="502.4" y1="387.3" x2="510.8" y2="482.9"/><line x1="493.5" y1="388.1" x2="501.8" y2="483.7"/></g>
<polygon points="515.5,409 534,409 563.5,450 563.5,455.5 557.5,455.5 557.5,452.5 551.5,452.5 551,450 545,448.5 538,442.5 532,433 528.5,424 527.5,419.5 527,417 521,417 521,413.5 515.5,413.5" fill="none" stroke="#000" stroke-width="1.3"/>
<rect x="579" y="399.5" width="2.5" height="1" fill="#808080"/>
<polygon points="562,400.5 565,398.5 565,401.8" fill="none" stroke="#808080" stroke-width="0.8"/>
<polyline points="550,313.5 580,313.5 582.5,306 587.5,319.5 589.5,313.5 623,313.5" fill="none" stroke="#000" stroke-width="1"/>
<polyline points="550,541.5 580,541.5 582.5,534 587.5,547.5 589.5,541.5 623,541.5" fill="none" stroke="#000" stroke-width="1"/>
<path d="M540.5 196 V198.5 A1.5 1.5 0 0 0 543.5 198.5 V196" fill="none" stroke="#000" stroke-width="0.9"/>
<polygon points="558,200.3 560,196.8 562,200.3" fill="#fff" stroke="#000" stroke-width="0.9"/>
<path d="M570.5 196.5 V198.5 A1.4 1.4 0 0 0 573.3 198.5 V196.5" fill="none" stroke="#fff" stroke-width="0.9"/>
<rect x="544.5" y="223.6" width="3" height="1" fill="#e03030"/>
<rect x="545" y="222.6" width="2.5" height="1" fill="#55ccff"/>
<text x="565" y="362.6" font-family="'Liberation Sans', sans-serif" font-size="9.2" textLength="48" lengthAdjust="spacingAndGlyphs" fill="#000" stroke="#000" stroke-width="0.5">BLOCKWALL</text>
<line x1="606" y1="362.6" x2="614" y2="362.6" stroke="#000" stroke-width="0.8"/>
<circle cx="109.5" cy="380" r="1.55" fill="#000"/>
<circle cx="114.5" cy="380" r="1.55" fill="#000"/>
<circle cx="118.5" cy="380" r="1.55" fill="#000"/>
<circle cx="121.5" cy="380" r="1.55" fill="#000"/>
<circle cx="125.5" cy="380" r="1.55" fill="#000"/>
<circle cx="127.5" cy="380" r="1.55" fill="#000"/>
<circle cx="130.5" cy="380" r="1.55" fill="#000"/>
<circle cx="133.5" cy="380" r="1.55" fill="#000"/>
<circle cx="135.5" cy="380" r="1.55" fill="#000"/>
<circle cx="138.5" cy="380" r="1.55" fill="#000"/>
<circle cx="143.5" cy="380" r="1.55" fill="#000"/>
<circle cx="146.5" cy="380" r="1.55" fill="#000"/>
<circle cx="149.5" cy="380" r="1.55" fill="#000"/>
<circle cx="151.5" cy="380" r="1.55" fill="#000"/>
<circle cx="153.5" cy="380" r="1.55" fill="#000"/>
<circle cx="158.5" cy="380" r="1.55" fill="#000"/>
<circle cx="161.5" cy="380" r="1.55" fill="#000"/>
<circle cx="173" cy="380" r="1.95" fill="#000"/>
<circle cx="181" cy="380" r="1.95" fill="#000"/>
<circle cx="188.5" cy="380" r="1.55" fill="#000"/>
<circle cx="200.5" cy="380" r="1.55" fill="#000"/>
<circle cx="202.5" cy="380" r="1.55" fill="#000"/>
<circle cx="208.5" cy="380" r="1.55" fill="#000"/>
<circle cx="210.5" cy="380" r="1.55" fill="#000"/>
<circle cx="214.5" cy="380" r="1.55" fill="#000"/>
<circle cx="218.5" cy="380" r="1.55" fill="#000"/>
<circle cx="222.5" cy="380" r="1.55" fill="#000"/>
<circle cx="224.5" cy="380" r="1.55" fill="#000"/>
<circle cx="226.5" cy="380" r="1.55" fill="#000"/>
<circle cx="228.5" cy="380" r="1.55" fill="#000"/>
<circle cx="230.5" cy="380" r="1.55" fill="#000"/>
<circle cx="233.5" cy="380" r="1.55" fill="#000"/>
<circle cx="236.5" cy="380" r="1.55" fill="#000"/>
<circle cx="239.5" cy="380" r="1.55" fill="#000"/>
<circle cx="242.5" cy="380" r="1.55" fill="#000"/>
<circle cx="247.5" cy="380" r="1.55" fill="#000"/>
<circle cx="252.5" cy="380" r="1.55" fill="#000"/>
<circle cx="91.5" cy="447.5" r="1.7" fill="#000"/>
<polyline points="92.5,464 95.5,467.5 92.5,470.5" fill="none" stroke="#000" stroke-width="1"/>
<circle cx="91.5" cy="501.5" r="1.4" fill="#fff" stroke="#000" stroke-width="0.9"/>
<circle cx="91.5" cy="512.5" r="1.6" fill="#000"/>
<circle cx="504.5" cy="501.5" r="1.5" fill="#000"/>
<circle cx="504.5" cy="512.5" r="1.7" fill="#000"/>
</g>
</svg>
</body>
</html>
